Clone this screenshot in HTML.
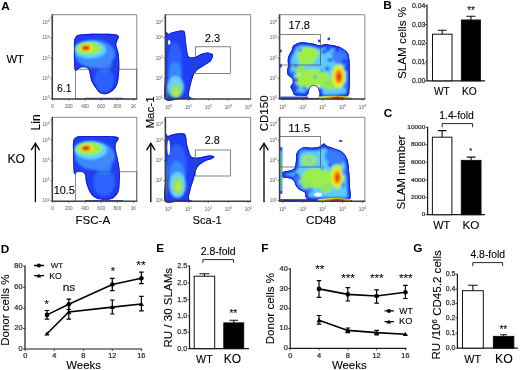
<!DOCTYPE html><html><head><meta charset="utf-8"><style>html,body{margin:0;padding:0;background:#fff;}svg{display:block;}text{font-family:"Liberation Sans",sans-serif;}</style></head><body>
<svg width="520" height="370" viewBox="0 0 520 370" style="will-change:transform">
<rect width="520" height="370" fill="#fff"/>
<clipPath id="c11"><path d="M74.20,40.20 C74.70,38.12 75.53,36.50 77.00,35.50 C78.47,34.50 79.40,34.48 83.00,34.20 C86.60,33.92 93.77,33.83 98.60,33.80 C103.43,33.77 108.65,33.62 112.00,34.00 C115.35,34.38 117.97,34.57 118.70,36.10 C119.43,37.63 116.75,41.47 116.40,43.20 C116.05,44.93 116.22,44.63 116.60,46.50 C116.98,48.37 118.25,50.72 118.70,54.40 C119.15,58.08 119.47,63.87 119.30,68.60 C119.13,73.33 118.65,79.25 117.70,82.80 C116.75,86.35 115.47,88.05 113.60,89.90 C111.73,91.75 108.70,93.35 106.50,93.90 C104.30,94.45 102.08,94.03 100.40,93.20 C98.72,92.37 97.92,90.98 96.40,88.90 C94.88,86.82 92.48,83.58 91.30,80.70 C90.12,77.82 89.98,73.72 89.30,71.60 C88.62,69.48 88.17,68.72 87.20,68.00 C86.23,67.28 84.68,67.33 83.50,67.30 C82.32,67.27 81.50,67.25 80.10,67.80 C78.70,68.35 76.12,71.90 75.10,70.60 C74.08,69.30 74.18,63.77 74.00,60.00 C73.82,56.23 73.97,51.30 74.00,48.00 C74.03,44.70 73.70,42.28 74.20,40.20 Z"/></clipPath>
<filter id="bl11" x="-50%" y="-50%" width="200%" height="200%"><feGaussianBlur stdDeviation="1.1"/></filter>
<path d="M74.20,40.20 C74.70,38.12 75.53,36.50 77.00,35.50 C78.47,34.50 79.40,34.48 83.00,34.20 C86.60,33.92 93.77,33.83 98.60,33.80 C103.43,33.77 108.65,33.62 112.00,34.00 C115.35,34.38 117.97,34.57 118.70,36.10 C119.43,37.63 116.75,41.47 116.40,43.20 C116.05,44.93 116.22,44.63 116.60,46.50 C116.98,48.37 118.25,50.72 118.70,54.40 C119.15,58.08 119.47,63.87 119.30,68.60 C119.13,73.33 118.65,79.25 117.70,82.80 C116.75,86.35 115.47,88.05 113.60,89.90 C111.73,91.75 108.70,93.35 106.50,93.90 C104.30,94.45 102.08,94.03 100.40,93.20 C98.72,92.37 97.92,90.98 96.40,88.90 C94.88,86.82 92.48,83.58 91.30,80.70 C90.12,77.82 89.98,73.72 89.30,71.60 C88.62,69.48 88.17,68.72 87.20,68.00 C86.23,67.28 84.68,67.33 83.50,67.30 C82.32,67.27 81.50,67.25 80.10,67.80 C78.70,68.35 76.12,71.90 75.10,70.60 C74.08,69.30 74.18,63.77 74.00,60.00 C73.82,56.23 73.97,51.30 74.00,48.00 C74.03,44.70 73.70,42.28 74.20,40.20 Z" fill="#1e3ef4"/>
<g clip-path="url(#c11)">
<g filter="url(#bl11)">
<ellipse cx="104" cy="80" rx="10" ry="12" fill="#2f6cff" opacity="0.8"/>
<ellipse cx="95" cy="54" rx="20" ry="14" fill="#3c88ff" opacity="1"/>
<ellipse cx="104" cy="64" rx="8" ry="7" fill="#3c88ff" opacity="0.8"/>
<ellipse cx="90" cy="49.5" rx="16" ry="9" fill="#5cd6ff" opacity="1"/>
<ellipse cx="88.7" cy="48.4" rx="12.8" ry="6.3" fill="#9cee48" opacity="1"/>
<ellipse cx="86.8" cy="48.0" rx="6.6" ry="3.6" fill="#f2ec1c" opacity="1"/>
<ellipse cx="86.1" cy="47.9" rx="4.5" ry="2.6" fill="#f88a12" opacity="1"/>
<ellipse cx="85.8" cy="47.9" rx="3.3" ry="2.0" fill="#d41a0a" opacity="1"/>
</g>
<path d="M74.20,40.20 C74.70,38.12 75.53,36.50 77.00,35.50 C78.47,34.50 79.40,34.48 83.00,34.20 C86.60,33.92 93.77,33.83 98.60,33.80 C103.43,33.77 108.65,33.62 112.00,34.00 C115.35,34.38 117.97,34.57 118.70,36.10 C119.43,37.63 116.75,41.47 116.40,43.20 C116.05,44.93 116.22,44.63 116.60,46.50 C116.98,48.37 118.25,50.72 118.70,54.40 C119.15,58.08 119.47,63.87 119.30,68.60 C119.13,73.33 118.65,79.25 117.70,82.80 C116.75,86.35 115.47,88.05 113.60,89.90 C111.73,91.75 108.70,93.35 106.50,93.90 C104.30,94.45 102.08,94.03 100.40,93.20 C98.72,92.37 97.92,90.98 96.40,88.90 C94.88,86.82 92.48,83.58 91.30,80.70 C90.12,77.82 89.98,73.72 89.30,71.60 C88.62,69.48 88.17,68.72 87.20,68.00 C86.23,67.28 84.68,67.33 83.50,67.30 C82.32,67.27 81.50,67.25 80.10,67.80 C78.70,68.35 76.12,71.90 75.10,70.60 C74.08,69.30 74.18,63.77 74.00,60.00 C73.82,56.23 73.97,51.30 74.00,48.00 C74.03,44.70 73.70,42.28 74.20,40.20 Z" fill="none" stroke="#0c14c4" stroke-width="1.8" opacity="0.85"/>

</g>
<path d="M85,98.4 H123" stroke="#0c14c4" stroke-width="1.2" opacity="0.8"/>
<clipPath id="c21"><path d="M73.20,141.20 C73.70,139.07 74.37,138.05 76.00,137.20 C77.63,136.35 79.00,136.32 83.00,136.10 C87.00,135.88 95.00,135.87 100.00,135.90 C105.00,135.93 109.88,135.93 113.00,136.30 C116.12,136.67 118.20,136.90 118.70,138.10 C119.20,139.30 116.52,141.68 116.00,143.50 C115.48,145.32 115.33,146.58 115.60,149.00 C115.87,151.42 116.92,154.40 117.60,158.00 C118.28,161.60 119.37,166.60 119.70,170.60 C120.03,174.60 119.77,178.62 119.60,182.00 C119.43,185.38 119.47,188.48 118.70,190.90 C117.93,193.32 116.35,195.12 115.00,196.50 C113.65,197.88 112.60,198.65 110.60,199.20 C108.60,199.75 105.37,199.95 103.00,199.80 C100.63,199.65 98.52,199.45 96.40,198.30 C94.28,197.15 92.00,195.50 90.30,192.90 C88.60,190.30 87.05,185.60 86.20,182.70 C85.35,179.80 85.70,177.18 85.20,175.50 C84.70,173.82 84.05,173.25 83.20,172.60 C82.35,171.95 81.22,171.62 80.10,171.60 C78.98,171.58 77.50,172.17 76.50,172.50 C75.50,172.83 74.65,175.35 74.10,173.60 C73.55,171.85 73.38,165.93 73.20,162.00 C73.02,158.07 73.00,153.47 73.00,150.00 C73.00,146.53 72.70,143.33 73.20,141.20 Z"/></clipPath>
<filter id="bl21" x="-50%" y="-50%" width="200%" height="200%"><feGaussianBlur stdDeviation="1.1"/></filter>
<path d="M73.20,141.20 C73.70,139.07 74.37,138.05 76.00,137.20 C77.63,136.35 79.00,136.32 83.00,136.10 C87.00,135.88 95.00,135.87 100.00,135.90 C105.00,135.93 109.88,135.93 113.00,136.30 C116.12,136.67 118.20,136.90 118.70,138.10 C119.20,139.30 116.52,141.68 116.00,143.50 C115.48,145.32 115.33,146.58 115.60,149.00 C115.87,151.42 116.92,154.40 117.60,158.00 C118.28,161.60 119.37,166.60 119.70,170.60 C120.03,174.60 119.77,178.62 119.60,182.00 C119.43,185.38 119.47,188.48 118.70,190.90 C117.93,193.32 116.35,195.12 115.00,196.50 C113.65,197.88 112.60,198.65 110.60,199.20 C108.60,199.75 105.37,199.95 103.00,199.80 C100.63,199.65 98.52,199.45 96.40,198.30 C94.28,197.15 92.00,195.50 90.30,192.90 C88.60,190.30 87.05,185.60 86.20,182.70 C85.35,179.80 85.70,177.18 85.20,175.50 C84.70,173.82 84.05,173.25 83.20,172.60 C82.35,171.95 81.22,171.62 80.10,171.60 C78.98,171.58 77.50,172.17 76.50,172.50 C75.50,172.83 74.65,175.35 74.10,173.60 C73.55,171.85 73.38,165.93 73.20,162.00 C73.02,158.07 73.00,153.47 73.00,150.00 C73.00,146.53 72.70,143.33 73.20,141.20 Z" fill="#1e3ef4"/>
<g clip-path="url(#c21)">
<g filter="url(#bl21)">
<ellipse cx="104" cy="182" rx="11" ry="14" fill="#2f6cff" opacity="0.8"/>
<ellipse cx="95" cy="156" rx="20" ry="14" fill="#3c88ff" opacity="1"/>
<ellipse cx="104" cy="166" rx="8" ry="8" fill="#3c88ff" opacity="0.8"/>
<ellipse cx="90.5" cy="150" rx="16.5" ry="9.2" fill="#5cd6ff" opacity="1"/>
<ellipse cx="89.2" cy="148.6" rx="13.2" ry="6.4" fill="#9cee48" opacity="1"/>
<ellipse cx="87" cy="148.2" rx="6.8" ry="3.6" fill="#f2ec1c" opacity="1"/>
<ellipse cx="86.2" cy="148.2" rx="4.6" ry="2.6" fill="#f88a12" opacity="1"/>
<ellipse cx="85.8" cy="148.2" rx="3.3" ry="2.0" fill="#d41a0a" opacity="1"/>
</g>
<path d="M73.20,141.20 C73.70,139.07 74.37,138.05 76.00,137.20 C77.63,136.35 79.00,136.32 83.00,136.10 C87.00,135.88 95.00,135.87 100.00,135.90 C105.00,135.93 109.88,135.93 113.00,136.30 C116.12,136.67 118.20,136.90 118.70,138.10 C119.20,139.30 116.52,141.68 116.00,143.50 C115.48,145.32 115.33,146.58 115.60,149.00 C115.87,151.42 116.92,154.40 117.60,158.00 C118.28,161.60 119.37,166.60 119.70,170.60 C120.03,174.60 119.77,178.62 119.60,182.00 C119.43,185.38 119.47,188.48 118.70,190.90 C117.93,193.32 116.35,195.12 115.00,196.50 C113.65,197.88 112.60,198.65 110.60,199.20 C108.60,199.75 105.37,199.95 103.00,199.80 C100.63,199.65 98.52,199.45 96.40,198.30 C94.28,197.15 92.00,195.50 90.30,192.90 C88.60,190.30 87.05,185.60 86.20,182.70 C85.35,179.80 85.70,177.18 85.20,175.50 C84.70,173.82 84.05,173.25 83.20,172.60 C82.35,171.95 81.22,171.62 80.10,171.60 C78.98,171.58 77.50,172.17 76.50,172.50 C75.50,172.83 74.65,175.35 74.10,173.60 C73.55,171.85 73.38,165.93 73.20,162.00 C73.02,158.07 73.00,153.47 73.00,150.00 C73.00,146.53 72.70,143.33 73.20,141.20 Z" fill="none" stroke="#0c14c4" stroke-width="1.8" opacity="0.85"/>

</g>
<path d="M85,200.7 H123" stroke="#0c14c4" stroke-width="1.2" opacity="0.8"/>
<clipPath id="c12"><path d="M165.20,32.40 C165.75,29.73 167.45,33.97 168.50,34.00 C169.55,34.03 170.15,33.07 171.50,32.60 C172.85,32.13 174.77,31.53 176.60,31.20 C178.43,30.87 181.13,30.43 182.50,30.60 C183.87,30.77 184.28,30.83 184.80,32.20 C185.32,33.57 185.27,36.08 185.60,38.80 C185.93,41.52 186.27,45.53 186.80,48.50 C187.33,51.47 187.47,55.18 188.80,56.60 C190.13,58.02 192.78,57.43 194.80,57.00 C196.82,56.57 198.78,54.77 200.90,54.00 C203.02,53.23 205.50,52.30 207.50,52.40 C209.50,52.50 212.28,53.27 212.90,54.60 C213.52,55.93 212.52,58.67 211.20,60.40 C209.88,62.13 207.32,63.40 205.00,65.00 C202.68,66.60 199.20,68.30 197.30,70.00 C195.40,71.70 194.70,72.70 193.60,75.20 C192.50,77.70 191.50,81.75 190.70,85.00 C189.90,88.25 188.82,92.60 188.80,94.70 C188.78,96.80 189.80,96.88 190.60,97.60 C191.40,98.32 195.37,98.77 193.60,99.00 C191.83,99.23 184.73,99.00 180.00,99.00 C175.27,99.00 167.67,103.00 165.20,99.00 C162.73,95.00 165.20,83.17 165.20,75.00 C165.20,66.83 165.20,57.10 165.20,50.00 C165.20,42.90 164.65,35.07 165.20,32.40 Z"/></clipPath>
<filter id="bl12" x="-50%" y="-50%" width="200%" height="200%"><feGaussianBlur stdDeviation="1.3"/></filter>
<path d="M165.20,32.40 C165.75,29.73 167.45,33.97 168.50,34.00 C169.55,34.03 170.15,33.07 171.50,32.60 C172.85,32.13 174.77,31.53 176.60,31.20 C178.43,30.87 181.13,30.43 182.50,30.60 C183.87,30.77 184.28,30.83 184.80,32.20 C185.32,33.57 185.27,36.08 185.60,38.80 C185.93,41.52 186.27,45.53 186.80,48.50 C187.33,51.47 187.47,55.18 188.80,56.60 C190.13,58.02 192.78,57.43 194.80,57.00 C196.82,56.57 198.78,54.77 200.90,54.00 C203.02,53.23 205.50,52.30 207.50,52.40 C209.50,52.50 212.28,53.27 212.90,54.60 C213.52,55.93 212.52,58.67 211.20,60.40 C209.88,62.13 207.32,63.40 205.00,65.00 C202.68,66.60 199.20,68.30 197.30,70.00 C195.40,71.70 194.70,72.70 193.60,75.20 C192.50,77.70 191.50,81.75 190.70,85.00 C189.90,88.25 188.82,92.60 188.80,94.70 C188.78,96.80 189.80,96.88 190.60,97.60 C191.40,98.32 195.37,98.77 193.60,99.00 C191.83,99.23 184.73,99.00 180.00,99.00 C175.27,99.00 167.67,103.00 165.20,99.00 C162.73,95.00 165.20,83.17 165.20,75.00 C165.20,66.83 165.20,57.10 165.20,50.00 C165.20,42.90 164.65,35.07 165.20,32.40 Z" fill="#1e3ef4"/>
<g clip-path="url(#c12)">
<g filter="url(#bl12)">
<ellipse cx="175" cy="62" rx="7" ry="20" fill="#3068ff" opacity="0.8"/>
<ellipse cx="175" cy="74" rx="7" ry="12" fill="#3c90ff" opacity="0.85"/>
<ellipse cx="175.5" cy="87" rx="8.5" ry="11" fill="#6cd4ff" opacity="0.95"/>
<ellipse cx="176" cy="91" rx="5.8" ry="7" fill="#8ee070" opacity="1"/>
<ellipse cx="176" cy="92" rx="3" ry="4" fill="#a8ec50" opacity="1"/>
<ellipse cx="165.6" cy="94" rx="0.8" ry="5" fill="#60d040" opacity="1"/>
</g>
<path d="M165.20,32.40 C165.75,29.73 167.45,33.97 168.50,34.00 C169.55,34.03 170.15,33.07 171.50,32.60 C172.85,32.13 174.77,31.53 176.60,31.20 C178.43,30.87 181.13,30.43 182.50,30.60 C183.87,30.77 184.28,30.83 184.80,32.20 C185.32,33.57 185.27,36.08 185.60,38.80 C185.93,41.52 186.27,45.53 186.80,48.50 C187.33,51.47 187.47,55.18 188.80,56.60 C190.13,58.02 192.78,57.43 194.80,57.00 C196.82,56.57 198.78,54.77 200.90,54.00 C203.02,53.23 205.50,52.30 207.50,52.40 C209.50,52.50 212.28,53.27 212.90,54.60 C213.52,55.93 212.52,58.67 211.20,60.40 C209.88,62.13 207.32,63.40 205.00,65.00 C202.68,66.60 199.20,68.30 197.30,70.00 C195.40,71.70 194.70,72.70 193.60,75.20 C192.50,77.70 191.50,81.75 190.70,85.00 C189.90,88.25 188.82,92.60 188.80,94.70 C188.78,96.80 189.80,96.88 190.60,97.60 C191.40,98.32 195.37,98.77 193.60,99.00 C191.83,99.23 184.73,99.00 180.00,99.00 C175.27,99.00 167.67,103.00 165.20,99.00 C162.73,95.00 165.20,83.17 165.20,75.00 C165.20,66.83 165.20,57.10 165.20,50.00 C165.20,42.90 164.65,35.07 165.20,32.40 Z" fill="none" stroke="#0c14c4" stroke-width="1.8" opacity="0.85"/>
<ellipse cx="169.2" cy="42.4" rx="1.3" ry="2.4" fill="#fff" opacity="0.95"/>
</g>
<clipPath id="c22"><path d="M165.20,134.20 C165.67,131.03 166.87,135.93 168.00,136.00 C169.13,136.07 170.17,135.05 172.00,134.60 C173.83,134.15 176.90,133.43 179.00,133.30 C181.10,133.17 183.40,133.10 184.60,133.80 C185.80,134.50 185.83,135.93 186.20,137.50 C186.57,139.07 186.37,141.03 186.80,143.20 C187.23,145.37 188.07,148.30 188.80,150.50 C189.53,152.70 189.58,155.22 191.20,156.40 C192.82,157.58 195.67,157.73 198.50,157.60 C201.33,157.47 205.57,155.80 208.20,155.60 C210.83,155.40 213.68,155.85 214.30,156.40 C214.92,156.95 213.52,158.07 211.90,158.90 C210.28,159.73 207.03,159.97 204.60,161.40 C202.17,162.83 199.13,164.45 197.30,167.50 C195.47,170.55 194.62,176.45 193.60,179.70 C192.58,182.95 192.00,183.97 191.20,187.00 C190.40,190.03 188.90,195.70 188.80,197.90 C188.70,200.10 190.00,199.65 190.60,200.20 C191.20,200.75 194.17,201.03 192.40,201.20 C190.63,201.37 184.53,201.20 180.00,201.20 C175.47,201.20 167.67,204.73 165.20,201.20 C162.73,197.67 165.20,187.70 165.20,180.00 C165.20,172.30 165.20,162.63 165.20,155.00 C165.20,147.37 164.73,137.37 165.20,134.20 Z"/></clipPath>
<filter id="bl22" x="-50%" y="-50%" width="200%" height="200%"><feGaussianBlur stdDeviation="1.3"/></filter>
<path d="M165.20,134.20 C165.67,131.03 166.87,135.93 168.00,136.00 C169.13,136.07 170.17,135.05 172.00,134.60 C173.83,134.15 176.90,133.43 179.00,133.30 C181.10,133.17 183.40,133.10 184.60,133.80 C185.80,134.50 185.83,135.93 186.20,137.50 C186.57,139.07 186.37,141.03 186.80,143.20 C187.23,145.37 188.07,148.30 188.80,150.50 C189.53,152.70 189.58,155.22 191.20,156.40 C192.82,157.58 195.67,157.73 198.50,157.60 C201.33,157.47 205.57,155.80 208.20,155.60 C210.83,155.40 213.68,155.85 214.30,156.40 C214.92,156.95 213.52,158.07 211.90,158.90 C210.28,159.73 207.03,159.97 204.60,161.40 C202.17,162.83 199.13,164.45 197.30,167.50 C195.47,170.55 194.62,176.45 193.60,179.70 C192.58,182.95 192.00,183.97 191.20,187.00 C190.40,190.03 188.90,195.70 188.80,197.90 C188.70,200.10 190.00,199.65 190.60,200.20 C191.20,200.75 194.17,201.03 192.40,201.20 C190.63,201.37 184.53,201.20 180.00,201.20 C175.47,201.20 167.67,204.73 165.20,201.20 C162.73,197.67 165.20,187.70 165.20,180.00 C165.20,172.30 165.20,162.63 165.20,155.00 C165.20,147.37 164.73,137.37 165.20,134.20 Z" fill="#1e3ef4"/>
<g clip-path="url(#c22)">
<g filter="url(#bl22)">
<ellipse cx="177" cy="166" rx="10" ry="22" fill="#3068ff" opacity="0.8"/>
<ellipse cx="177" cy="176" rx="8" ry="15" fill="#3c90ff" opacity="0.85"/>
<ellipse cx="177.5" cy="185" rx="8.5" ry="13" fill="#6cd4ff" opacity="0.95"/>
<ellipse cx="178" cy="186" rx="5.5" ry="9" fill="#8ee070" opacity="1"/>
<ellipse cx="178" cy="187" rx="2.8" ry="5" fill="#b0ec48" opacity="1"/>
<ellipse cx="165.6" cy="180" rx="0.8" ry="18" fill="#60d040" opacity="1"/>
</g>
<path d="M165.20,134.20 C165.67,131.03 166.87,135.93 168.00,136.00 C169.13,136.07 170.17,135.05 172.00,134.60 C173.83,134.15 176.90,133.43 179.00,133.30 C181.10,133.17 183.40,133.10 184.60,133.80 C185.80,134.50 185.83,135.93 186.20,137.50 C186.57,139.07 186.37,141.03 186.80,143.20 C187.23,145.37 188.07,148.30 188.80,150.50 C189.53,152.70 189.58,155.22 191.20,156.40 C192.82,157.58 195.67,157.73 198.50,157.60 C201.33,157.47 205.57,155.80 208.20,155.60 C210.83,155.40 213.68,155.85 214.30,156.40 C214.92,156.95 213.52,158.07 211.90,158.90 C210.28,159.73 207.03,159.97 204.60,161.40 C202.17,162.83 199.13,164.45 197.30,167.50 C195.47,170.55 194.62,176.45 193.60,179.70 C192.58,182.95 192.00,183.97 191.20,187.00 C190.40,190.03 188.90,195.70 188.80,197.90 C188.70,200.10 190.00,199.65 190.60,200.20 C191.20,200.75 194.17,201.03 192.40,201.20 C190.63,201.37 184.53,201.20 180.00,201.20 C175.47,201.20 167.67,204.73 165.20,201.20 C162.73,197.67 165.20,187.70 165.20,180.00 C165.20,172.30 165.20,162.63 165.20,155.00 C165.20,147.37 164.73,137.37 165.20,134.20 Z" fill="none" stroke="#0c14c4" stroke-width="1.8" opacity="0.85"/>
<ellipse cx="168.7" cy="147.5" rx="1.4" ry="7.5" fill="#fff" opacity="0.95"/>
</g>
<clipPath id="c13"><path d="M291.80,49.90 C292.72,47.87 292.08,46.85 293.50,45.60 C294.92,44.35 297.13,42.73 300.30,42.40 C303.47,42.07 309.25,43.07 312.50,43.60 C315.75,44.13 317.78,45.48 319.80,45.60 C321.82,45.72 322.17,44.30 324.60,44.30 C327.03,44.30 331.55,44.98 334.40,45.60 C337.25,46.22 339.47,46.77 341.70,48.00 C343.93,49.23 346.52,50.90 347.80,53.00 C349.08,55.10 349.03,56.90 349.40,60.60 C349.77,64.30 350.00,70.33 350.00,75.20 C350.00,80.07 349.82,86.35 349.40,89.80 C348.98,93.25 349.90,94.57 347.50,95.90 C345.10,97.23 339.42,97.52 335.00,97.80 C330.58,98.08 323.58,98.40 321.00,97.60 C318.42,96.80 320.08,94.68 319.50,93.00 C318.92,91.32 318.50,88.70 317.50,87.50 C316.50,86.30 314.75,85.72 313.50,85.80 C312.25,85.88 310.83,86.80 310.00,88.00 C309.17,89.20 309.08,91.75 308.50,93.00 C307.92,94.25 307.92,95.07 306.50,95.50 C305.08,95.93 302.00,95.68 300.00,95.60 C298.00,95.52 295.75,95.77 294.50,95.00 C293.25,94.23 293.17,92.42 292.50,91.00 C291.83,89.58 290.48,87.75 290.50,86.50 C290.52,85.25 292.28,84.75 292.60,83.50 C292.92,82.25 293.08,80.33 292.40,79.00 C291.72,77.67 289.40,76.67 288.50,75.50 C287.60,74.33 287.08,73.58 287.00,72.00 C286.92,70.42 287.83,68.37 288.00,66.00 C288.17,63.63 287.37,60.48 288.00,57.80 C288.63,55.12 290.88,51.93 291.80,49.90 Z"/></clipPath>
<filter id="bl13" x="-50%" y="-50%" width="200%" height="200%"><feGaussianBlur stdDeviation="1.2"/></filter>
<path d="M291.80,49.90 C292.72,47.87 292.08,46.85 293.50,45.60 C294.92,44.35 297.13,42.73 300.30,42.40 C303.47,42.07 309.25,43.07 312.50,43.60 C315.75,44.13 317.78,45.48 319.80,45.60 C321.82,45.72 322.17,44.30 324.60,44.30 C327.03,44.30 331.55,44.98 334.40,45.60 C337.25,46.22 339.47,46.77 341.70,48.00 C343.93,49.23 346.52,50.90 347.80,53.00 C349.08,55.10 349.03,56.90 349.40,60.60 C349.77,64.30 350.00,70.33 350.00,75.20 C350.00,80.07 349.82,86.35 349.40,89.80 C348.98,93.25 349.90,94.57 347.50,95.90 C345.10,97.23 339.42,97.52 335.00,97.80 C330.58,98.08 323.58,98.40 321.00,97.60 C318.42,96.80 320.08,94.68 319.50,93.00 C318.92,91.32 318.50,88.70 317.50,87.50 C316.50,86.30 314.75,85.72 313.50,85.80 C312.25,85.88 310.83,86.80 310.00,88.00 C309.17,89.20 309.08,91.75 308.50,93.00 C307.92,94.25 307.92,95.07 306.50,95.50 C305.08,95.93 302.00,95.68 300.00,95.60 C298.00,95.52 295.75,95.77 294.50,95.00 C293.25,94.23 293.17,92.42 292.50,91.00 C291.83,89.58 290.48,87.75 290.50,86.50 C290.52,85.25 292.28,84.75 292.60,83.50 C292.92,82.25 293.08,80.33 292.40,79.00 C291.72,77.67 289.40,76.67 288.50,75.50 C287.60,74.33 287.08,73.58 287.00,72.00 C286.92,70.42 287.83,68.37 288.00,66.00 C288.17,63.63 287.37,60.48 288.00,57.80 C288.63,55.12 290.88,51.93 291.80,49.90 Z" fill="#1e3ef4"/>
<g clip-path="url(#c13)">
<g filter="url(#bl13)">
<path d="M291.80,49.90 C292.72,47.87 292.08,46.85 293.50,45.60 C294.92,44.35 297.13,42.73 300.30,42.40 C303.47,42.07 309.25,43.07 312.50,43.60 C315.75,44.13 317.78,45.48 319.80,45.60 C321.82,45.72 322.17,44.30 324.60,44.30 C327.03,44.30 331.55,44.98 334.40,45.60 C337.25,46.22 339.47,46.77 341.70,48.00 C343.93,49.23 346.52,50.90 347.80,53.00 C349.08,55.10 349.03,56.90 349.40,60.60 C349.77,64.30 350.00,70.33 350.00,75.20 C350.00,80.07 349.82,86.35 349.40,89.80 C348.98,93.25 349.90,94.57 347.50,95.90 C345.10,97.23 339.42,97.52 335.00,97.80 C330.58,98.08 323.58,98.40 321.00,97.60 C318.42,96.80 320.08,94.68 319.50,93.00 C318.92,91.32 318.50,88.70 317.50,87.50 C316.50,86.30 314.75,85.72 313.50,85.80 C312.25,85.88 310.83,86.80 310.00,88.00 C309.17,89.20 309.08,91.75 308.50,93.00 C307.92,94.25 307.92,95.07 306.50,95.50 C305.08,95.93 302.00,95.68 300.00,95.60 C298.00,95.52 295.75,95.77 294.50,95.00 C293.25,94.23 293.17,92.42 292.50,91.00 C291.83,89.58 290.48,87.75 290.50,86.50 C290.52,85.25 292.28,84.75 292.60,83.50 C292.92,82.25 293.08,80.33 292.40,79.00 C291.72,77.67 289.40,76.67 288.50,75.50 C287.60,74.33 287.08,73.58 287.00,72.00 C286.92,70.42 287.83,68.37 288.00,66.00 C288.17,63.63 287.37,60.48 288.00,57.80 C288.63,55.12 290.88,51.93 291.80,49.90 Z" fill="#5ccaff" stroke="#1e3ef4" stroke-width="6.5"/>
<ellipse cx="340" cy="56" rx="8" ry="8" fill="#3470ff" opacity="0.85"/>
<ellipse cx="294" cy="82" rx="6" ry="11" fill="#2a5cff" opacity="0.85"/>
<ellipse cx="296" cy="75" rx="2" ry="2" fill="#60d0ff" opacity="1"/>
<ellipse cx="308" cy="55" rx="11" ry="8" fill="#9cee48" opacity="1"/>
<ellipse cx="306" cy="61" rx="8" ry="4" fill="#9cee48" opacity="1"/>
<ellipse cx="312" cy="79" rx="18" ry="10" fill="#9cee48" opacity="1"/>
<ellipse cx="300" cy="70" rx="5" ry="5" fill="#8ce858" opacity="1"/>
<ellipse cx="330" cy="84" rx="8" ry="6" fill="#8ce858" opacity="1"/>
<ellipse cx="338.6" cy="76.5" rx="7" ry="12" fill="#c8f030" opacity="1"/>
<ellipse cx="338.6" cy="76.5" rx="5.4" ry="9.5" fill="#f2ec1c" opacity="1"/>
<ellipse cx="338.8" cy="76.5" rx="3.8" ry="7" fill="#f88a12" opacity="1"/>
<ellipse cx="339" cy="77" rx="2" ry="4.2" fill="#d84010" opacity="1"/>
<ellipse cx="324" cy="51.7" rx="2.4" ry="2" fill="#1e3ef4" opacity="1"/>
<ellipse cx="327.4" cy="68.4" rx="2" ry="2" fill="#1e3ef4" opacity="1"/>
<ellipse cx="315" cy="77" rx="1.4" ry="1.4" fill="#3c88ff" opacity="1"/>
<ellipse cx="333" cy="53" rx="2" ry="2" fill="#3c88ff" opacity="1"/>
<ellipse cx="344" cy="62" rx="2" ry="3" fill="#1e3ef4" opacity="1"/>
<ellipse cx="345" cy="86" rx="2" ry="3" fill="#3c88ff" opacity="1"/>
<ellipse cx="300" cy="50" rx="2" ry="2" fill="#3c88ff" opacity="1"/>
<ellipse cx="296" cy="80" rx="2" ry="2" fill="#1e3ef4" opacity="1"/>
<ellipse cx="296" cy="66" rx="2.2" ry="2.2" fill="#3c88ff" opacity="1"/>
<ellipse cx="293" cy="88" rx="3" ry="3" fill="#1e3ef4" opacity="1"/>
<ellipse cx="330" cy="60" rx="2.5" ry="1.8" fill="#1e3ef4" opacity="1"/>
<ellipse cx="322" cy="71" rx="1.6" ry="1.6" fill="#3c88ff" opacity="1"/>
<ellipse cx="310" cy="67" rx="2" ry="1.5" fill="#60c8ff" opacity="1"/>
<ellipse cx="304" cy="88" rx="2" ry="2" fill="#3c88ff" opacity="1"/>
<ellipse cx="328" cy="49.5" rx="2.6" ry="2" fill="#1e3ef4" opacity="1"/>
<ellipse cx="337" cy="50" rx="2.2" ry="2.2" fill="#1e3ef4" opacity="1"/>
<ellipse cx="346" cy="68" rx="2" ry="3" fill="#1e3ef4" opacity="1"/>
<ellipse cx="318" cy="58" rx="1.8" ry="1.8" fill="#60c8ff" opacity="1"/>
<ellipse cx="299.3" cy="74.5" rx="1.3" ry="1.3" fill="#e0f0ff" opacity="1"/>
<ellipse cx="317.8" cy="86" rx="1.5" ry="1.5" fill="#ffffff" opacity="1"/>
<ellipse cx="314" cy="92" rx="4" ry="4" fill="#ffffff" opacity="1"/>
</g>
<path d="M291.80,49.90 C292.72,47.87 292.08,46.85 293.50,45.60 C294.92,44.35 297.13,42.73 300.30,42.40 C303.47,42.07 309.25,43.07 312.50,43.60 C315.75,44.13 317.78,45.48 319.80,45.60 C321.82,45.72 322.17,44.30 324.60,44.30 C327.03,44.30 331.55,44.98 334.40,45.60 C337.25,46.22 339.47,46.77 341.70,48.00 C343.93,49.23 346.52,50.90 347.80,53.00 C349.08,55.10 349.03,56.90 349.40,60.60 C349.77,64.30 350.00,70.33 350.00,75.20 C350.00,80.07 349.82,86.35 349.40,89.80 C348.98,93.25 349.90,94.57 347.50,95.90 C345.10,97.23 339.42,97.52 335.00,97.80 C330.58,98.08 323.58,98.40 321.00,97.60 C318.42,96.80 320.08,94.68 319.50,93.00 C318.92,91.32 318.50,88.70 317.50,87.50 C316.50,86.30 314.75,85.72 313.50,85.80 C312.25,85.88 310.83,86.80 310.00,88.00 C309.17,89.20 309.08,91.75 308.50,93.00 C307.92,94.25 307.92,95.07 306.50,95.50 C305.08,95.93 302.00,95.68 300.00,95.60 C298.00,95.52 295.75,95.77 294.50,95.00 C293.25,94.23 293.17,92.42 292.50,91.00 C291.83,89.58 290.48,87.75 290.50,86.50 C290.52,85.25 292.28,84.75 292.60,83.50 C292.92,82.25 293.08,80.33 292.40,79.00 C291.72,77.67 289.40,76.67 288.50,75.50 C287.60,74.33 287.08,73.58 287.00,72.00 C286.92,70.42 287.83,68.37 288.00,66.00 C288.17,63.63 287.37,60.48 288.00,57.80 C288.63,55.12 290.88,51.93 291.80,49.90 Z" fill="none" stroke="#0c14c4" stroke-width="1.6" opacity="0.7"/>

</g>
<clipPath id="c23"><path d="M296.00,160.20 C296.35,157.68 295.57,155.00 296.70,152.90 C297.83,150.80 300.17,148.45 302.80,147.60 C305.43,146.75 309.67,147.97 312.50,147.80 C315.33,147.63 317.95,147.33 319.80,146.60 C321.65,145.87 322.38,143.50 323.60,143.40 C324.82,143.30 325.30,145.13 327.10,146.00 C328.90,146.87 331.77,147.53 334.40,148.60 C337.03,149.67 340.70,150.47 342.90,152.40 C345.10,154.33 346.55,156.87 347.60,160.20 C348.65,163.53 348.80,167.93 349.20,172.40 C349.60,176.87 349.93,182.50 350.00,187.00 C350.07,191.50 351.80,197.13 349.60,199.40 C347.40,201.67 341.73,200.40 336.80,200.60 C331.87,200.80 324.63,200.67 320.00,200.60 C315.37,200.53 311.42,200.88 309.00,200.20 C306.58,199.52 306.20,197.78 305.50,196.50 C304.80,195.22 305.72,193.58 304.80,192.50 C303.88,191.42 301.47,191.08 300.00,190.00 C298.53,188.92 297.00,187.50 296.00,186.00 C295.00,184.50 294.93,182.23 294.00,181.00 C293.07,179.77 292.02,179.13 290.40,178.60 C288.78,178.07 285.87,178.48 284.30,177.80 C282.73,177.12 281.02,175.57 281.00,174.50 C280.98,173.43 282.67,172.08 284.20,171.40 C285.73,170.72 288.47,170.97 290.20,170.40 C291.93,169.83 293.63,169.70 294.60,168.00 C295.57,166.30 295.65,162.72 296.00,160.20 Z"/></clipPath>
<filter id="bl23" x="-50%" y="-50%" width="200%" height="200%"><feGaussianBlur stdDeviation="1.2"/></filter>
<path d="M296.00,160.20 C296.35,157.68 295.57,155.00 296.70,152.90 C297.83,150.80 300.17,148.45 302.80,147.60 C305.43,146.75 309.67,147.97 312.50,147.80 C315.33,147.63 317.95,147.33 319.80,146.60 C321.65,145.87 322.38,143.50 323.60,143.40 C324.82,143.30 325.30,145.13 327.10,146.00 C328.90,146.87 331.77,147.53 334.40,148.60 C337.03,149.67 340.70,150.47 342.90,152.40 C345.10,154.33 346.55,156.87 347.60,160.20 C348.65,163.53 348.80,167.93 349.20,172.40 C349.60,176.87 349.93,182.50 350.00,187.00 C350.07,191.50 351.80,197.13 349.60,199.40 C347.40,201.67 341.73,200.40 336.80,200.60 C331.87,200.80 324.63,200.67 320.00,200.60 C315.37,200.53 311.42,200.88 309.00,200.20 C306.58,199.52 306.20,197.78 305.50,196.50 C304.80,195.22 305.72,193.58 304.80,192.50 C303.88,191.42 301.47,191.08 300.00,190.00 C298.53,188.92 297.00,187.50 296.00,186.00 C295.00,184.50 294.93,182.23 294.00,181.00 C293.07,179.77 292.02,179.13 290.40,178.60 C288.78,178.07 285.87,178.48 284.30,177.80 C282.73,177.12 281.02,175.57 281.00,174.50 C280.98,173.43 282.67,172.08 284.20,171.40 C285.73,170.72 288.47,170.97 290.20,170.40 C291.93,169.83 293.63,169.70 294.60,168.00 C295.57,166.30 295.65,162.72 296.00,160.20 Z" fill="#1e3ef4"/>
<g clip-path="url(#c23)">
<g filter="url(#bl23)">
<path d="M296.00,160.20 C296.35,157.68 295.57,155.00 296.70,152.90 C297.83,150.80 300.17,148.45 302.80,147.60 C305.43,146.75 309.67,147.97 312.50,147.80 C315.33,147.63 317.95,147.33 319.80,146.60 C321.65,145.87 322.38,143.50 323.60,143.40 C324.82,143.30 325.30,145.13 327.10,146.00 C328.90,146.87 331.77,147.53 334.40,148.60 C337.03,149.67 340.70,150.47 342.90,152.40 C345.10,154.33 346.55,156.87 347.60,160.20 C348.65,163.53 348.80,167.93 349.20,172.40 C349.60,176.87 349.93,182.50 350.00,187.00 C350.07,191.50 351.80,197.13 349.60,199.40 C347.40,201.67 341.73,200.40 336.80,200.60 C331.87,200.80 324.63,200.67 320.00,200.60 C315.37,200.53 311.42,200.88 309.00,200.20 C306.58,199.52 306.20,197.78 305.50,196.50 C304.80,195.22 305.72,193.58 304.80,192.50 C303.88,191.42 301.47,191.08 300.00,190.00 C298.53,188.92 297.00,187.50 296.00,186.00 C295.00,184.50 294.93,182.23 294.00,181.00 C293.07,179.77 292.02,179.13 290.40,178.60 C288.78,178.07 285.87,178.48 284.30,177.80 C282.73,177.12 281.02,175.57 281.00,174.50 C280.98,173.43 282.67,172.08 284.20,171.40 C285.73,170.72 288.47,170.97 290.20,170.40 C291.93,169.83 293.63,169.70 294.60,168.00 C295.57,166.30 295.65,162.72 296.00,160.20 Z" fill="#5ccaff" stroke="#1e3ef4" stroke-width="6.5"/>
<ellipse cx="336" cy="156" rx="11" ry="9" fill="#3470ff" opacity="0.85"/>
<ellipse cx="304" cy="190" rx="7" ry="6" fill="#2a5cff" opacity="0.85"/>
<ellipse cx="297" cy="178" rx="4" ry="4" fill="#3470ff" opacity="0.8"/>
<ellipse cx="300" cy="150" rx="6" ry="3" fill="#3c8cff" opacity="0.7"/>
<ellipse cx="309" cy="160" rx="8" ry="5.5" fill="#9ce858" opacity="1"/>
<ellipse cx="317" cy="178" rx="16" ry="10" fill="#9cee48" opacity="1"/>
<ellipse cx="305" cy="184" rx="7" ry="5" fill="#8ce858" opacity="1"/>
<ellipse cx="326" cy="188" rx="6" ry="5" fill="#8ce858" opacity="1"/>
<ellipse cx="337.1" cy="177" rx="7" ry="12.5" fill="#b8f038" opacity="1"/>
<ellipse cx="337.1" cy="177.4" rx="5.2" ry="9.5" fill="#f2ec1c" opacity="1"/>
<ellipse cx="337.3" cy="177.4" rx="3.4" ry="6.8" fill="#f88a12" opacity="1"/>
<ellipse cx="337.5" cy="177.8" rx="1.8" ry="3.8" fill="#d84010" opacity="1"/>
<ellipse cx="309" cy="160" rx="2" ry="2" fill="#60c8ff" opacity="1"/>
<ellipse cx="296" cy="175" rx="2" ry="2" fill="#1e3ef4" opacity="1"/>
<ellipse cx="330" cy="165" rx="2" ry="2" fill="#1e3ef4" opacity="1"/>
<ellipse cx="344" cy="172" rx="2" ry="3" fill="#3c88ff" opacity="1"/>
<ellipse cx="300" cy="186" rx="2.5" ry="2.5" fill="#3c88ff" opacity="1"/>
<ellipse cx="322" cy="168" rx="2" ry="2" fill="#3c88ff" opacity="1"/>
<ellipse cx="343" cy="185" rx="2" ry="3" fill="#3c8cff" opacity="1"/>
<ellipse cx="311" cy="190" rx="2.5" ry="2" fill="#3c88ff" opacity="1"/>
<ellipse cx="296" cy="196" rx="4" ry="3" fill="#1e3ef4" opacity="0.8"/>
</g>
<path d="M296.00,160.20 C296.35,157.68 295.57,155.00 296.70,152.90 C297.83,150.80 300.17,148.45 302.80,147.60 C305.43,146.75 309.67,147.97 312.50,147.80 C315.33,147.63 317.95,147.33 319.80,146.60 C321.65,145.87 322.38,143.50 323.60,143.40 C324.82,143.30 325.30,145.13 327.10,146.00 C328.90,146.87 331.77,147.53 334.40,148.60 C337.03,149.67 340.70,150.47 342.90,152.40 C345.10,154.33 346.55,156.87 347.60,160.20 C348.65,163.53 348.80,167.93 349.20,172.40 C349.60,176.87 349.93,182.50 350.00,187.00 C350.07,191.50 351.80,197.13 349.60,199.40 C347.40,201.67 341.73,200.40 336.80,200.60 C331.87,200.80 324.63,200.67 320.00,200.60 C315.37,200.53 311.42,200.88 309.00,200.20 C306.58,199.52 306.20,197.78 305.50,196.50 C304.80,195.22 305.72,193.58 304.80,192.50 C303.88,191.42 301.47,191.08 300.00,190.00 C298.53,188.92 297.00,187.50 296.00,186.00 C295.00,184.50 294.93,182.23 294.00,181.00 C293.07,179.77 292.02,179.13 290.40,178.60 C288.78,178.07 285.87,178.48 284.30,177.80 C282.73,177.12 281.02,175.57 281.00,174.50 C280.98,173.43 282.67,172.08 284.20,171.40 C285.73,170.72 288.47,170.97 290.20,170.40 C291.93,169.83 293.63,169.70 294.60,168.00 C295.57,166.30 295.65,162.72 296.00,160.20 Z" fill="none" stroke="#0c14c4" stroke-width="1.6" opacity="0.7"/>
<ellipse cx="318.2" cy="194.6" rx="3.8" ry="2.2" fill="#fff"/>
</g>
<path d="M281,97.89999999999999 H307" stroke="#1e3ef4" stroke-width="2.6" stroke-linecap="round" opacity="0.9"/>
<path d="M283,98.6 H352" stroke="#0c14c4" stroke-width="1.4"/>
<ellipse cx="334" cy="97.7" rx="17" ry="1.9" fill="#c8e830"/>
<ellipse cx="337" cy="97.89999999999999" rx="12" ry="1.6" fill="#f88a12"/>
<ellipse cx="337.5" cy="98.1" rx="7" ry="1.3" fill="#c82a10"/>
<path d="M281,200.2 H307" stroke="#1e3ef4" stroke-width="2.6" stroke-linecap="round" opacity="0.9"/>
<path d="M283,200.9 H352" stroke="#0c14c4" stroke-width="1.4"/>
<ellipse cx="334" cy="200.0" rx="17" ry="1.9" fill="#c8e830"/>
<ellipse cx="337" cy="200.2" rx="12" ry="1.6" fill="#f88a12"/>
<ellipse cx="337.5" cy="200.4" rx="7" ry="1.3" fill="#c82a10"/>
<ellipse cx="319.2" cy="41.0" rx="1.4" ry="1.4" fill="#1e3ef4"/>
<ellipse cx="328.8" cy="38.9" rx="1.4" ry="1.4" fill="#1e3ef4"/>
<ellipse cx="280.8" cy="50.8" rx="1.0" ry="1.6" fill="#1e3ef4"/>
<ellipse cx="280.9" cy="65.7" rx="1.0" ry="2.0" fill="#1e3ef4"/>
<ellipse cx="340.6" cy="140.9" rx="1.9" ry="1.0" fill="#1e3ef4"/>
<rect x="279.8" y="147" width="2.6" height="47" rx="1" fill="#2a5cff"/><rect x="279.8" y="151" width="2.0" height="40" fill="#58c8e8"/><rect x="279.8" y="156" width="1.5" height="30" fill="#70d860"/>
<path d="M52.3,14.7 H136.8 V99.0" fill="none" stroke="#7a7a7a" stroke-width="0.9"/>
<path d="M52.3,14.299999999999999 V99.0 H137.20000000000002" fill="none" stroke="#3c3c3c" stroke-width="1.5"/>
<line x1="50.5" y1="98.4" x2="52.3" y2="98.4" stroke="#444" stroke-width="0.7"/>
<text x="46.1" y="100.0" font-size="4.6" text-anchor="middle" fill="#555">10<tspan dy="-1.7" font-size="3.59">0</tspan></text>
<line x1="51.3" y1="92.3" x2="52.3" y2="92.3" stroke="#666" stroke-width="0.45"/>
<line x1="51.3" y1="88.8" x2="52.3" y2="88.8" stroke="#666" stroke-width="0.45"/>
<line x1="51.3" y1="86.2" x2="52.3" y2="86.2" stroke="#666" stroke-width="0.45"/>
<line x1="51.3" y1="84.3" x2="52.3" y2="84.3" stroke="#666" stroke-width="0.45"/>
<line x1="51.3" y1="82.7" x2="52.3" y2="82.7" stroke="#666" stroke-width="0.45"/>
<line x1="51.3" y1="81.3" x2="52.3" y2="81.3" stroke="#666" stroke-width="0.45"/>
<line x1="51.3" y1="80.2" x2="52.3" y2="80.2" stroke="#666" stroke-width="0.45"/>
<line x1="51.3" y1="79.1" x2="52.3" y2="79.1" stroke="#666" stroke-width="0.45"/>
<line x1="50.5" y1="78.2" x2="52.3" y2="78.2" stroke="#444" stroke-width="0.7"/>
<text x="46.1" y="79.8" font-size="4.6" text-anchor="middle" fill="#555">10<tspan dy="-1.7" font-size="3.59">1</tspan></text>
<line x1="51.3" y1="72.1" x2="52.3" y2="72.1" stroke="#666" stroke-width="0.45"/>
<line x1="51.3" y1="68.6" x2="52.3" y2="68.6" stroke="#666" stroke-width="0.45"/>
<line x1="51.3" y1="66.0" x2="52.3" y2="66.0" stroke="#666" stroke-width="0.45"/>
<line x1="51.3" y1="64.1" x2="52.3" y2="64.1" stroke="#666" stroke-width="0.45"/>
<line x1="51.3" y1="62.5" x2="52.3" y2="62.5" stroke="#666" stroke-width="0.45"/>
<line x1="51.3" y1="61.1" x2="52.3" y2="61.1" stroke="#666" stroke-width="0.45"/>
<line x1="51.3" y1="60.0" x2="52.3" y2="60.0" stroke="#666" stroke-width="0.45"/>
<line x1="51.3" y1="58.9" x2="52.3" y2="58.9" stroke="#666" stroke-width="0.45"/>
<line x1="50.5" y1="58.0" x2="52.3" y2="58.0" stroke="#444" stroke-width="0.7"/>
<text x="46.1" y="59.6" font-size="4.6" text-anchor="middle" fill="#555">10<tspan dy="-1.7" font-size="3.59">2</tspan></text>
<line x1="51.3" y1="51.9" x2="52.3" y2="51.9" stroke="#666" stroke-width="0.45"/>
<line x1="51.3" y1="48.4" x2="52.3" y2="48.4" stroke="#666" stroke-width="0.45"/>
<line x1="51.3" y1="45.8" x2="52.3" y2="45.8" stroke="#666" stroke-width="0.45"/>
<line x1="51.3" y1="43.9" x2="52.3" y2="43.9" stroke="#666" stroke-width="0.45"/>
<line x1="51.3" y1="42.3" x2="52.3" y2="42.3" stroke="#666" stroke-width="0.45"/>
<line x1="51.3" y1="40.9" x2="52.3" y2="40.9" stroke="#666" stroke-width="0.45"/>
<line x1="51.3" y1="39.8" x2="52.3" y2="39.8" stroke="#666" stroke-width="0.45"/>
<line x1="51.3" y1="38.7" x2="52.3" y2="38.7" stroke="#666" stroke-width="0.45"/>
<line x1="50.5" y1="37.8" x2="52.3" y2="37.8" stroke="#444" stroke-width="0.7"/>
<text x="46.1" y="39.4" font-size="4.6" text-anchor="middle" fill="#555">10<tspan dy="-1.7" font-size="3.59">3</tspan></text>
<line x1="51.3" y1="31.7" x2="52.3" y2="31.7" stroke="#666" stroke-width="0.45"/>
<line x1="51.3" y1="28.2" x2="52.3" y2="28.2" stroke="#666" stroke-width="0.45"/>
<line x1="51.3" y1="25.6" x2="52.3" y2="25.6" stroke="#666" stroke-width="0.45"/>
<line x1="51.3" y1="23.7" x2="52.3" y2="23.7" stroke="#666" stroke-width="0.45"/>
<line x1="51.3" y1="22.1" x2="52.3" y2="22.1" stroke="#666" stroke-width="0.45"/>
<line x1="51.3" y1="20.7" x2="52.3" y2="20.7" stroke="#666" stroke-width="0.45"/>
<line x1="51.3" y1="19.6" x2="52.3" y2="19.6" stroke="#666" stroke-width="0.45"/>
<line x1="51.3" y1="18.5" x2="52.3" y2="18.5" stroke="#666" stroke-width="0.45"/>
<line x1="50.5" y1="17.6" x2="52.3" y2="17.6" stroke="#444" stroke-width="0.7"/>
<text x="46.1" y="23.8" font-size="4.6" text-anchor="middle" fill="#555">10<tspan dy="-1.7" font-size="3.59">4</tspan></text>
<line x1="52.6" y1="99.0" x2="52.6" y2="100.8" stroke="#444" stroke-width="0.6"/>
<line x1="56.6" y1="99.0" x2="56.6" y2="100.0" stroke="#666" stroke-width="0.45"/>
<line x1="60.7" y1="99.0" x2="60.7" y2="100.0" stroke="#666" stroke-width="0.45"/>
<line x1="64.8" y1="99.0" x2="64.8" y2="100.0" stroke="#666" stroke-width="0.45"/>
<text x="52.6" y="107.8" font-size="4.6" text-anchor="middle" fill="#555">0</text>
<line x1="68.8" y1="99.0" x2="68.8" y2="100.8" stroke="#444" stroke-width="0.6"/>
<line x1="72.8" y1="99.0" x2="72.8" y2="100.0" stroke="#666" stroke-width="0.45"/>
<line x1="76.9" y1="99.0" x2="76.9" y2="100.0" stroke="#666" stroke-width="0.45"/>
<line x1="80.9" y1="99.0" x2="80.9" y2="100.0" stroke="#666" stroke-width="0.45"/>
<text x="68.8" y="107.8" font-size="4.6" text-anchor="middle" fill="#555">200</text>
<line x1="85.0" y1="99.0" x2="85.0" y2="100.8" stroke="#444" stroke-width="0.6"/>
<line x1="89.0" y1="99.0" x2="89.0" y2="100.0" stroke="#666" stroke-width="0.45"/>
<line x1="93.1" y1="99.0" x2="93.1" y2="100.0" stroke="#666" stroke-width="0.45"/>
<line x1="97.2" y1="99.0" x2="97.2" y2="100.0" stroke="#666" stroke-width="0.45"/>
<text x="85.0" y="107.8" font-size="4.6" text-anchor="middle" fill="#555">400</text>
<line x1="101.2" y1="99.0" x2="101.2" y2="100.8" stroke="#444" stroke-width="0.6"/>
<line x1="105.2" y1="99.0" x2="105.2" y2="100.0" stroke="#666" stroke-width="0.45"/>
<line x1="109.3" y1="99.0" x2="109.3" y2="100.0" stroke="#666" stroke-width="0.45"/>
<line x1="113.3" y1="99.0" x2="113.3" y2="100.0" stroke="#666" stroke-width="0.45"/>
<text x="101.2" y="107.8" font-size="4.6" text-anchor="middle" fill="#555">600</text>
<line x1="117.4" y1="99.0" x2="117.4" y2="100.8" stroke="#444" stroke-width="0.6"/>
<line x1="121.4" y1="99.0" x2="121.4" y2="100.0" stroke="#666" stroke-width="0.45"/>
<line x1="125.5" y1="99.0" x2="125.5" y2="100.0" stroke="#666" stroke-width="0.45"/>
<line x1="129.5" y1="99.0" x2="129.5" y2="100.0" stroke="#666" stroke-width="0.45"/>
<text x="117.4" y="107.8" font-size="4.6" text-anchor="middle" fill="#555">800</text>
<line x1="133.6" y1="99.0" x2="133.6" y2="100.8" stroke="#444" stroke-width="0.6"/>
<text x="133.6" y="107.8" font-size="4.6" text-anchor="middle" fill="#555">1K</text>
<path d="M165.4,14.7 H250.7 V99.0" fill="none" stroke="#7a7a7a" stroke-width="0.9"/>
<path d="M165.4,14.299999999999999 V99.0 H251.1" fill="none" stroke="#3c3c3c" stroke-width="1.5"/>
<line x1="163.6" y1="98.4" x2="165.4" y2="98.4" stroke="#444" stroke-width="0.7"/>
<text x="159.2" y="100.0" font-size="4.6" text-anchor="middle" fill="#555">10<tspan dy="-1.7" font-size="3.59">0</tspan></text>
<line x1="164.4" y1="92.3" x2="165.4" y2="92.3" stroke="#666" stroke-width="0.45"/>
<line x1="164.4" y1="88.8" x2="165.4" y2="88.8" stroke="#666" stroke-width="0.45"/>
<line x1="164.4" y1="86.2" x2="165.4" y2="86.2" stroke="#666" stroke-width="0.45"/>
<line x1="164.4" y1="84.3" x2="165.4" y2="84.3" stroke="#666" stroke-width="0.45"/>
<line x1="164.4" y1="82.7" x2="165.4" y2="82.7" stroke="#666" stroke-width="0.45"/>
<line x1="164.4" y1="81.3" x2="165.4" y2="81.3" stroke="#666" stroke-width="0.45"/>
<line x1="164.4" y1="80.2" x2="165.4" y2="80.2" stroke="#666" stroke-width="0.45"/>
<line x1="164.4" y1="79.1" x2="165.4" y2="79.1" stroke="#666" stroke-width="0.45"/>
<line x1="163.6" y1="78.2" x2="165.4" y2="78.2" stroke="#444" stroke-width="0.7"/>
<text x="159.2" y="79.8" font-size="4.6" text-anchor="middle" fill="#555">10<tspan dy="-1.7" font-size="3.59">1</tspan></text>
<line x1="164.4" y1="72.1" x2="165.4" y2="72.1" stroke="#666" stroke-width="0.45"/>
<line x1="164.4" y1="68.6" x2="165.4" y2="68.6" stroke="#666" stroke-width="0.45"/>
<line x1="164.4" y1="66.0" x2="165.4" y2="66.0" stroke="#666" stroke-width="0.45"/>
<line x1="164.4" y1="64.1" x2="165.4" y2="64.1" stroke="#666" stroke-width="0.45"/>
<line x1="164.4" y1="62.5" x2="165.4" y2="62.5" stroke="#666" stroke-width="0.45"/>
<line x1="164.4" y1="61.1" x2="165.4" y2="61.1" stroke="#666" stroke-width="0.45"/>
<line x1="164.4" y1="60.0" x2="165.4" y2="60.0" stroke="#666" stroke-width="0.45"/>
<line x1="164.4" y1="58.9" x2="165.4" y2="58.9" stroke="#666" stroke-width="0.45"/>
<line x1="163.6" y1="58.0" x2="165.4" y2="58.0" stroke="#444" stroke-width="0.7"/>
<text x="159.2" y="59.6" font-size="4.6" text-anchor="middle" fill="#555">10<tspan dy="-1.7" font-size="3.59">2</tspan></text>
<line x1="164.4" y1="51.9" x2="165.4" y2="51.9" stroke="#666" stroke-width="0.45"/>
<line x1="164.4" y1="48.4" x2="165.4" y2="48.4" stroke="#666" stroke-width="0.45"/>
<line x1="164.4" y1="45.8" x2="165.4" y2="45.8" stroke="#666" stroke-width="0.45"/>
<line x1="164.4" y1="43.9" x2="165.4" y2="43.9" stroke="#666" stroke-width="0.45"/>
<line x1="164.4" y1="42.3" x2="165.4" y2="42.3" stroke="#666" stroke-width="0.45"/>
<line x1="164.4" y1="40.9" x2="165.4" y2="40.9" stroke="#666" stroke-width="0.45"/>
<line x1="164.4" y1="39.8" x2="165.4" y2="39.8" stroke="#666" stroke-width="0.45"/>
<line x1="164.4" y1="38.7" x2="165.4" y2="38.7" stroke="#666" stroke-width="0.45"/>
<line x1="163.6" y1="37.8" x2="165.4" y2="37.8" stroke="#444" stroke-width="0.7"/>
<text x="159.2" y="39.4" font-size="4.6" text-anchor="middle" fill="#555">10<tspan dy="-1.7" font-size="3.59">3</tspan></text>
<line x1="164.4" y1="31.7" x2="165.4" y2="31.7" stroke="#666" stroke-width="0.45"/>
<line x1="164.4" y1="28.2" x2="165.4" y2="28.2" stroke="#666" stroke-width="0.45"/>
<line x1="164.4" y1="25.6" x2="165.4" y2="25.6" stroke="#666" stroke-width="0.45"/>
<line x1="164.4" y1="23.7" x2="165.4" y2="23.7" stroke="#666" stroke-width="0.45"/>
<line x1="164.4" y1="22.1" x2="165.4" y2="22.1" stroke="#666" stroke-width="0.45"/>
<line x1="164.4" y1="20.7" x2="165.4" y2="20.7" stroke="#666" stroke-width="0.45"/>
<line x1="164.4" y1="19.6" x2="165.4" y2="19.6" stroke="#666" stroke-width="0.45"/>
<line x1="164.4" y1="18.5" x2="165.4" y2="18.5" stroke="#666" stroke-width="0.45"/>
<line x1="163.6" y1="17.6" x2="165.4" y2="17.6" stroke="#444" stroke-width="0.7"/>
<text x="159.2" y="23.8" font-size="4.6" text-anchor="middle" fill="#555">10<tspan dy="-1.7" font-size="3.59">4</tspan></text>
<line x1="168.6" y1="99.0" x2="168.6" y2="100.8" stroke="#444" stroke-width="0.6"/>
<text x="168.6" y="108.6" font-size="4.6" text-anchor="middle" fill="#555">10<tspan dy="-1.7" font-size="3.59">0</tspan></text>
<line x1="174.6" y1="99.0" x2="174.6" y2="100.0" stroke="#666" stroke-width="0.45"/>
<line x1="178.1" y1="99.0" x2="178.1" y2="100.0" stroke="#666" stroke-width="0.45"/>
<line x1="180.6" y1="99.0" x2="180.6" y2="100.0" stroke="#666" stroke-width="0.45"/>
<line x1="182.5" y1="99.0" x2="182.5" y2="100.0" stroke="#666" stroke-width="0.45"/>
<line x1="184.1" y1="99.0" x2="184.1" y2="100.0" stroke="#666" stroke-width="0.45"/>
<line x1="185.4" y1="99.0" x2="185.4" y2="100.0" stroke="#666" stroke-width="0.45"/>
<line x1="186.6" y1="99.0" x2="186.6" y2="100.0" stroke="#666" stroke-width="0.45"/>
<line x1="187.6" y1="99.0" x2="187.6" y2="100.0" stroke="#666" stroke-width="0.45"/>
<line x1="188.5" y1="99.0" x2="188.5" y2="100.8" stroke="#444" stroke-width="0.6"/>
<text x="188.5" y="108.6" font-size="4.6" text-anchor="middle" fill="#555">10<tspan dy="-1.7" font-size="3.59">1</tspan></text>
<line x1="194.5" y1="99.0" x2="194.5" y2="100.0" stroke="#666" stroke-width="0.45"/>
<line x1="198.0" y1="99.0" x2="198.0" y2="100.0" stroke="#666" stroke-width="0.45"/>
<line x1="200.5" y1="99.0" x2="200.5" y2="100.0" stroke="#666" stroke-width="0.45"/>
<line x1="202.4" y1="99.0" x2="202.4" y2="100.0" stroke="#666" stroke-width="0.45"/>
<line x1="204.0" y1="99.0" x2="204.0" y2="100.0" stroke="#666" stroke-width="0.45"/>
<line x1="205.3" y1="99.0" x2="205.3" y2="100.0" stroke="#666" stroke-width="0.45"/>
<line x1="206.5" y1="99.0" x2="206.5" y2="100.0" stroke="#666" stroke-width="0.45"/>
<line x1="207.5" y1="99.0" x2="207.5" y2="100.0" stroke="#666" stroke-width="0.45"/>
<line x1="208.4" y1="99.0" x2="208.4" y2="100.8" stroke="#444" stroke-width="0.6"/>
<text x="208.4" y="108.6" font-size="4.6" text-anchor="middle" fill="#555">10<tspan dy="-1.7" font-size="3.59">2</tspan></text>
<line x1="214.4" y1="99.0" x2="214.4" y2="100.0" stroke="#666" stroke-width="0.45"/>
<line x1="217.9" y1="99.0" x2="217.9" y2="100.0" stroke="#666" stroke-width="0.45"/>
<line x1="220.4" y1="99.0" x2="220.4" y2="100.0" stroke="#666" stroke-width="0.45"/>
<line x1="222.3" y1="99.0" x2="222.3" y2="100.0" stroke="#666" stroke-width="0.45"/>
<line x1="223.9" y1="99.0" x2="223.9" y2="100.0" stroke="#666" stroke-width="0.45"/>
<line x1="225.2" y1="99.0" x2="225.2" y2="100.0" stroke="#666" stroke-width="0.45"/>
<line x1="226.4" y1="99.0" x2="226.4" y2="100.0" stroke="#666" stroke-width="0.45"/>
<line x1="227.4" y1="99.0" x2="227.4" y2="100.0" stroke="#666" stroke-width="0.45"/>
<line x1="228.3" y1="99.0" x2="228.3" y2="100.8" stroke="#444" stroke-width="0.6"/>
<text x="228.3" y="108.6" font-size="4.6" text-anchor="middle" fill="#555">10<tspan dy="-1.7" font-size="3.59">3</tspan></text>
<line x1="234.3" y1="99.0" x2="234.3" y2="100.0" stroke="#666" stroke-width="0.45"/>
<line x1="237.8" y1="99.0" x2="237.8" y2="100.0" stroke="#666" stroke-width="0.45"/>
<line x1="240.3" y1="99.0" x2="240.3" y2="100.0" stroke="#666" stroke-width="0.45"/>
<line x1="242.2" y1="99.0" x2="242.2" y2="100.0" stroke="#666" stroke-width="0.45"/>
<line x1="243.8" y1="99.0" x2="243.8" y2="100.0" stroke="#666" stroke-width="0.45"/>
<line x1="245.1" y1="99.0" x2="245.1" y2="100.0" stroke="#666" stroke-width="0.45"/>
<line x1="246.3" y1="99.0" x2="246.3" y2="100.0" stroke="#666" stroke-width="0.45"/>
<line x1="247.3" y1="99.0" x2="247.3" y2="100.0" stroke="#666" stroke-width="0.45"/>
<line x1="248.2" y1="99.0" x2="248.2" y2="100.8" stroke="#444" stroke-width="0.6"/>
<text x="248.2" y="108.6" font-size="4.6" text-anchor="middle" fill="#555">10<tspan dy="-1.7" font-size="3.59">4</tspan></text>
<path d="M279.6,14.7 H364.9 V99.0" fill="none" stroke="#7a7a7a" stroke-width="0.9"/>
<path d="M279.6,14.299999999999999 V99.0 H365.29999999999995" fill="none" stroke="#3c3c3c" stroke-width="1.5"/>
<line x1="277.8" y1="98.4" x2="279.6" y2="98.4" stroke="#444" stroke-width="0.7"/>
<text x="273.4" y="100.0" font-size="4.6" text-anchor="middle" fill="#555">10<tspan dy="-1.7" font-size="3.59">0</tspan></text>
<line x1="278.6" y1="92.3" x2="279.6" y2="92.3" stroke="#666" stroke-width="0.45"/>
<line x1="278.6" y1="88.8" x2="279.6" y2="88.8" stroke="#666" stroke-width="0.45"/>
<line x1="278.6" y1="86.2" x2="279.6" y2="86.2" stroke="#666" stroke-width="0.45"/>
<line x1="278.6" y1="84.3" x2="279.6" y2="84.3" stroke="#666" stroke-width="0.45"/>
<line x1="278.6" y1="82.7" x2="279.6" y2="82.7" stroke="#666" stroke-width="0.45"/>
<line x1="278.6" y1="81.3" x2="279.6" y2="81.3" stroke="#666" stroke-width="0.45"/>
<line x1="278.6" y1="80.2" x2="279.6" y2="80.2" stroke="#666" stroke-width="0.45"/>
<line x1="278.6" y1="79.1" x2="279.6" y2="79.1" stroke="#666" stroke-width="0.45"/>
<line x1="277.8" y1="78.2" x2="279.6" y2="78.2" stroke="#444" stroke-width="0.7"/>
<text x="273.4" y="79.8" font-size="4.6" text-anchor="middle" fill="#555">10<tspan dy="-1.7" font-size="3.59">1</tspan></text>
<line x1="278.6" y1="72.1" x2="279.6" y2="72.1" stroke="#666" stroke-width="0.45"/>
<line x1="278.6" y1="68.6" x2="279.6" y2="68.6" stroke="#666" stroke-width="0.45"/>
<line x1="278.6" y1="66.0" x2="279.6" y2="66.0" stroke="#666" stroke-width="0.45"/>
<line x1="278.6" y1="64.1" x2="279.6" y2="64.1" stroke="#666" stroke-width="0.45"/>
<line x1="278.6" y1="62.5" x2="279.6" y2="62.5" stroke="#666" stroke-width="0.45"/>
<line x1="278.6" y1="61.1" x2="279.6" y2="61.1" stroke="#666" stroke-width="0.45"/>
<line x1="278.6" y1="60.0" x2="279.6" y2="60.0" stroke="#666" stroke-width="0.45"/>
<line x1="278.6" y1="58.9" x2="279.6" y2="58.9" stroke="#666" stroke-width="0.45"/>
<line x1="277.8" y1="58.0" x2="279.6" y2="58.0" stroke="#444" stroke-width="0.7"/>
<text x="273.4" y="59.6" font-size="4.6" text-anchor="middle" fill="#555">10<tspan dy="-1.7" font-size="3.59">2</tspan></text>
<line x1="278.6" y1="51.9" x2="279.6" y2="51.9" stroke="#666" stroke-width="0.45"/>
<line x1="278.6" y1="48.4" x2="279.6" y2="48.4" stroke="#666" stroke-width="0.45"/>
<line x1="278.6" y1="45.8" x2="279.6" y2="45.8" stroke="#666" stroke-width="0.45"/>
<line x1="278.6" y1="43.9" x2="279.6" y2="43.9" stroke="#666" stroke-width="0.45"/>
<line x1="278.6" y1="42.3" x2="279.6" y2="42.3" stroke="#666" stroke-width="0.45"/>
<line x1="278.6" y1="40.9" x2="279.6" y2="40.9" stroke="#666" stroke-width="0.45"/>
<line x1="278.6" y1="39.8" x2="279.6" y2="39.8" stroke="#666" stroke-width="0.45"/>
<line x1="278.6" y1="38.7" x2="279.6" y2="38.7" stroke="#666" stroke-width="0.45"/>
<line x1="277.8" y1="37.8" x2="279.6" y2="37.8" stroke="#444" stroke-width="0.7"/>
<text x="273.4" y="39.4" font-size="4.6" text-anchor="middle" fill="#555">10<tspan dy="-1.7" font-size="3.59">3</tspan></text>
<line x1="278.6" y1="31.7" x2="279.6" y2="31.7" stroke="#666" stroke-width="0.45"/>
<line x1="278.6" y1="28.2" x2="279.6" y2="28.2" stroke="#666" stroke-width="0.45"/>
<line x1="278.6" y1="25.6" x2="279.6" y2="25.6" stroke="#666" stroke-width="0.45"/>
<line x1="278.6" y1="23.7" x2="279.6" y2="23.7" stroke="#666" stroke-width="0.45"/>
<line x1="278.6" y1="22.1" x2="279.6" y2="22.1" stroke="#666" stroke-width="0.45"/>
<line x1="278.6" y1="20.7" x2="279.6" y2="20.7" stroke="#666" stroke-width="0.45"/>
<line x1="278.6" y1="19.6" x2="279.6" y2="19.6" stroke="#666" stroke-width="0.45"/>
<line x1="278.6" y1="18.5" x2="279.6" y2="18.5" stroke="#666" stroke-width="0.45"/>
<line x1="277.8" y1="17.6" x2="279.6" y2="17.6" stroke="#444" stroke-width="0.7"/>
<text x="273.4" y="23.8" font-size="4.6" text-anchor="middle" fill="#555">10<tspan dy="-1.7" font-size="3.59">4</tspan></text>
<line x1="282.8" y1="99.0" x2="282.8" y2="100.8" stroke="#444" stroke-width="0.6"/>
<text x="282.8" y="108.6" font-size="4.6" text-anchor="middle" fill="#555">10<tspan dy="-1.7" font-size="3.59">0</tspan></text>
<line x1="288.8" y1="99.0" x2="288.8" y2="100.0" stroke="#666" stroke-width="0.45"/>
<line x1="292.3" y1="99.0" x2="292.3" y2="100.0" stroke="#666" stroke-width="0.45"/>
<line x1="294.8" y1="99.0" x2="294.8" y2="100.0" stroke="#666" stroke-width="0.45"/>
<line x1="296.7" y1="99.0" x2="296.7" y2="100.0" stroke="#666" stroke-width="0.45"/>
<line x1="298.3" y1="99.0" x2="298.3" y2="100.0" stroke="#666" stroke-width="0.45"/>
<line x1="299.6" y1="99.0" x2="299.6" y2="100.0" stroke="#666" stroke-width="0.45"/>
<line x1="300.8" y1="99.0" x2="300.8" y2="100.0" stroke="#666" stroke-width="0.45"/>
<line x1="301.8" y1="99.0" x2="301.8" y2="100.0" stroke="#666" stroke-width="0.45"/>
<line x1="302.7" y1="99.0" x2="302.7" y2="100.8" stroke="#444" stroke-width="0.6"/>
<text x="302.7" y="108.6" font-size="4.6" text-anchor="middle" fill="#555">-10<tspan dy="-1.7" font-size="3.5">1</tspan></text>
<line x1="308.7" y1="99.0" x2="308.7" y2="100.0" stroke="#666" stroke-width="0.45"/>
<line x1="312.2" y1="99.0" x2="312.2" y2="100.0" stroke="#666" stroke-width="0.45"/>
<line x1="314.7" y1="99.0" x2="314.7" y2="100.0" stroke="#666" stroke-width="0.45"/>
<line x1="316.6" y1="99.0" x2="316.6" y2="100.0" stroke="#666" stroke-width="0.45"/>
<line x1="318.2" y1="99.0" x2="318.2" y2="100.0" stroke="#666" stroke-width="0.45"/>
<line x1="319.5" y1="99.0" x2="319.5" y2="100.0" stroke="#666" stroke-width="0.45"/>
<line x1="320.7" y1="99.0" x2="320.7" y2="100.0" stroke="#666" stroke-width="0.45"/>
<line x1="321.7" y1="99.0" x2="321.7" y2="100.0" stroke="#666" stroke-width="0.45"/>
<line x1="322.6" y1="99.0" x2="322.6" y2="100.8" stroke="#444" stroke-width="0.6"/>
<text x="322.6" y="108.6" font-size="4.6" text-anchor="middle" fill="#555">10<tspan dy="-1.7" font-size="3.59">2</tspan></text>
<line x1="328.6" y1="99.0" x2="328.6" y2="100.0" stroke="#666" stroke-width="0.45"/>
<line x1="332.1" y1="99.0" x2="332.1" y2="100.0" stroke="#666" stroke-width="0.45"/>
<line x1="334.6" y1="99.0" x2="334.6" y2="100.0" stroke="#666" stroke-width="0.45"/>
<line x1="336.5" y1="99.0" x2="336.5" y2="100.0" stroke="#666" stroke-width="0.45"/>
<line x1="338.1" y1="99.0" x2="338.1" y2="100.0" stroke="#666" stroke-width="0.45"/>
<line x1="339.4" y1="99.0" x2="339.4" y2="100.0" stroke="#666" stroke-width="0.45"/>
<line x1="340.6" y1="99.0" x2="340.6" y2="100.0" stroke="#666" stroke-width="0.45"/>
<line x1="341.6" y1="99.0" x2="341.6" y2="100.0" stroke="#666" stroke-width="0.45"/>
<line x1="342.5" y1="99.0" x2="342.5" y2="100.8" stroke="#444" stroke-width="0.6"/>
<text x="342.5" y="108.6" font-size="4.6" text-anchor="middle" fill="#555">10<tspan dy="-1.7" font-size="3.59">3</tspan></text>
<line x1="348.5" y1="99.0" x2="348.5" y2="100.0" stroke="#666" stroke-width="0.45"/>
<line x1="352.0" y1="99.0" x2="352.0" y2="100.0" stroke="#666" stroke-width="0.45"/>
<line x1="354.5" y1="99.0" x2="354.5" y2="100.0" stroke="#666" stroke-width="0.45"/>
<line x1="356.4" y1="99.0" x2="356.4" y2="100.0" stroke="#666" stroke-width="0.45"/>
<line x1="358.0" y1="99.0" x2="358.0" y2="100.0" stroke="#666" stroke-width="0.45"/>
<line x1="359.3" y1="99.0" x2="359.3" y2="100.0" stroke="#666" stroke-width="0.45"/>
<line x1="360.5" y1="99.0" x2="360.5" y2="100.0" stroke="#666" stroke-width="0.45"/>
<line x1="361.5" y1="99.0" x2="361.5" y2="100.0" stroke="#666" stroke-width="0.45"/>
<line x1="362.4" y1="99.0" x2="362.4" y2="100.8" stroke="#444" stroke-width="0.6"/>
<text x="362.4" y="108.6" font-size="4.6" text-anchor="middle" fill="#555">10<tspan dy="-1.7" font-size="3.59">4</tspan></text>
<path d="M52.3,117.3 H136.8 V201.3" fill="none" stroke="#7a7a7a" stroke-width="0.9"/>
<path d="M52.3,116.89999999999999 V201.3 H137.20000000000002" fill="none" stroke="#3c3c3c" stroke-width="1.5"/>
<line x1="50.5" y1="200.7" x2="52.3" y2="200.7" stroke="#444" stroke-width="0.7"/>
<text x="46.1" y="202.3" font-size="4.6" text-anchor="middle" fill="#555">10<tspan dy="-1.7" font-size="3.59">0</tspan></text>
<line x1="51.3" y1="194.6" x2="52.3" y2="194.6" stroke="#666" stroke-width="0.45"/>
<line x1="51.3" y1="191.1" x2="52.3" y2="191.1" stroke="#666" stroke-width="0.45"/>
<line x1="51.3" y1="188.5" x2="52.3" y2="188.5" stroke="#666" stroke-width="0.45"/>
<line x1="51.3" y1="186.6" x2="52.3" y2="186.6" stroke="#666" stroke-width="0.45"/>
<line x1="51.3" y1="185.0" x2="52.3" y2="185.0" stroke="#666" stroke-width="0.45"/>
<line x1="51.3" y1="183.6" x2="52.3" y2="183.6" stroke="#666" stroke-width="0.45"/>
<line x1="51.3" y1="182.5" x2="52.3" y2="182.5" stroke="#666" stroke-width="0.45"/>
<line x1="51.3" y1="181.4" x2="52.3" y2="181.4" stroke="#666" stroke-width="0.45"/>
<line x1="50.5" y1="180.5" x2="52.3" y2="180.5" stroke="#444" stroke-width="0.7"/>
<text x="46.1" y="182.1" font-size="4.6" text-anchor="middle" fill="#555">10<tspan dy="-1.7" font-size="3.59">1</tspan></text>
<line x1="51.3" y1="174.4" x2="52.3" y2="174.4" stroke="#666" stroke-width="0.45"/>
<line x1="51.3" y1="170.9" x2="52.3" y2="170.9" stroke="#666" stroke-width="0.45"/>
<line x1="51.3" y1="168.3" x2="52.3" y2="168.3" stroke="#666" stroke-width="0.45"/>
<line x1="51.3" y1="166.4" x2="52.3" y2="166.4" stroke="#666" stroke-width="0.45"/>
<line x1="51.3" y1="164.8" x2="52.3" y2="164.8" stroke="#666" stroke-width="0.45"/>
<line x1="51.3" y1="163.4" x2="52.3" y2="163.4" stroke="#666" stroke-width="0.45"/>
<line x1="51.3" y1="162.3" x2="52.3" y2="162.3" stroke="#666" stroke-width="0.45"/>
<line x1="51.3" y1="161.2" x2="52.3" y2="161.2" stroke="#666" stroke-width="0.45"/>
<line x1="50.5" y1="160.3" x2="52.3" y2="160.3" stroke="#444" stroke-width="0.7"/>
<text x="46.1" y="161.9" font-size="4.6" text-anchor="middle" fill="#555">10<tspan dy="-1.7" font-size="3.59">2</tspan></text>
<line x1="51.3" y1="154.2" x2="52.3" y2="154.2" stroke="#666" stroke-width="0.45"/>
<line x1="51.3" y1="150.7" x2="52.3" y2="150.7" stroke="#666" stroke-width="0.45"/>
<line x1="51.3" y1="148.1" x2="52.3" y2="148.1" stroke="#666" stroke-width="0.45"/>
<line x1="51.3" y1="146.2" x2="52.3" y2="146.2" stroke="#666" stroke-width="0.45"/>
<line x1="51.3" y1="144.6" x2="52.3" y2="144.6" stroke="#666" stroke-width="0.45"/>
<line x1="51.3" y1="143.2" x2="52.3" y2="143.2" stroke="#666" stroke-width="0.45"/>
<line x1="51.3" y1="142.1" x2="52.3" y2="142.1" stroke="#666" stroke-width="0.45"/>
<line x1="51.3" y1="141.0" x2="52.3" y2="141.0" stroke="#666" stroke-width="0.45"/>
<line x1="50.5" y1="140.1" x2="52.3" y2="140.1" stroke="#444" stroke-width="0.7"/>
<text x="46.1" y="141.7" font-size="4.6" text-anchor="middle" fill="#555">10<tspan dy="-1.7" font-size="3.59">3</tspan></text>
<line x1="51.3" y1="134.0" x2="52.3" y2="134.0" stroke="#666" stroke-width="0.45"/>
<line x1="51.3" y1="130.5" x2="52.3" y2="130.5" stroke="#666" stroke-width="0.45"/>
<line x1="51.3" y1="127.9" x2="52.3" y2="127.9" stroke="#666" stroke-width="0.45"/>
<line x1="51.3" y1="126.0" x2="52.3" y2="126.0" stroke="#666" stroke-width="0.45"/>
<line x1="51.3" y1="124.4" x2="52.3" y2="124.4" stroke="#666" stroke-width="0.45"/>
<line x1="51.3" y1="123.0" x2="52.3" y2="123.0" stroke="#666" stroke-width="0.45"/>
<line x1="51.3" y1="121.9" x2="52.3" y2="121.9" stroke="#666" stroke-width="0.45"/>
<line x1="51.3" y1="120.8" x2="52.3" y2="120.8" stroke="#666" stroke-width="0.45"/>
<line x1="50.5" y1="119.9" x2="52.3" y2="119.9" stroke="#444" stroke-width="0.7"/>
<text x="46.1" y="126.1" font-size="4.6" text-anchor="middle" fill="#555">10<tspan dy="-1.7" font-size="3.59">4</tspan></text>
<line x1="52.6" y1="201.3" x2="52.6" y2="203.10000000000002" stroke="#444" stroke-width="0.6"/>
<line x1="56.6" y1="201.3" x2="56.6" y2="202.3" stroke="#666" stroke-width="0.45"/>
<line x1="60.7" y1="201.3" x2="60.7" y2="202.3" stroke="#666" stroke-width="0.45"/>
<line x1="64.8" y1="201.3" x2="64.8" y2="202.3" stroke="#666" stroke-width="0.45"/>
<text x="52.6" y="210.1" font-size="4.6" text-anchor="middle" fill="#555">0</text>
<line x1="68.8" y1="201.3" x2="68.8" y2="203.10000000000002" stroke="#444" stroke-width="0.6"/>
<line x1="72.8" y1="201.3" x2="72.8" y2="202.3" stroke="#666" stroke-width="0.45"/>
<line x1="76.9" y1="201.3" x2="76.9" y2="202.3" stroke="#666" stroke-width="0.45"/>
<line x1="80.9" y1="201.3" x2="80.9" y2="202.3" stroke="#666" stroke-width="0.45"/>
<text x="68.8" y="210.1" font-size="4.6" text-anchor="middle" fill="#555">200</text>
<line x1="85.0" y1="201.3" x2="85.0" y2="203.10000000000002" stroke="#444" stroke-width="0.6"/>
<line x1="89.0" y1="201.3" x2="89.0" y2="202.3" stroke="#666" stroke-width="0.45"/>
<line x1="93.1" y1="201.3" x2="93.1" y2="202.3" stroke="#666" stroke-width="0.45"/>
<line x1="97.2" y1="201.3" x2="97.2" y2="202.3" stroke="#666" stroke-width="0.45"/>
<text x="85.0" y="210.1" font-size="4.6" text-anchor="middle" fill="#555">400</text>
<line x1="101.2" y1="201.3" x2="101.2" y2="203.10000000000002" stroke="#444" stroke-width="0.6"/>
<line x1="105.2" y1="201.3" x2="105.2" y2="202.3" stroke="#666" stroke-width="0.45"/>
<line x1="109.3" y1="201.3" x2="109.3" y2="202.3" stroke="#666" stroke-width="0.45"/>
<line x1="113.3" y1="201.3" x2="113.3" y2="202.3" stroke="#666" stroke-width="0.45"/>
<text x="101.2" y="210.1" font-size="4.6" text-anchor="middle" fill="#555">600</text>
<line x1="117.4" y1="201.3" x2="117.4" y2="203.10000000000002" stroke="#444" stroke-width="0.6"/>
<line x1="121.4" y1="201.3" x2="121.4" y2="202.3" stroke="#666" stroke-width="0.45"/>
<line x1="125.5" y1="201.3" x2="125.5" y2="202.3" stroke="#666" stroke-width="0.45"/>
<line x1="129.5" y1="201.3" x2="129.5" y2="202.3" stroke="#666" stroke-width="0.45"/>
<text x="117.4" y="210.1" font-size="4.6" text-anchor="middle" fill="#555">800</text>
<line x1="133.6" y1="201.3" x2="133.6" y2="203.10000000000002" stroke="#444" stroke-width="0.6"/>
<text x="133.6" y="210.1" font-size="4.6" text-anchor="middle" fill="#555">1K</text>
<path d="M165.4,117.3 H250.7 V201.3" fill="none" stroke="#7a7a7a" stroke-width="0.9"/>
<path d="M165.4,116.89999999999999 V201.3 H251.1" fill="none" stroke="#3c3c3c" stroke-width="1.5"/>
<line x1="163.6" y1="200.7" x2="165.4" y2="200.7" stroke="#444" stroke-width="0.7"/>
<text x="159.2" y="202.3" font-size="4.6" text-anchor="middle" fill="#555">10<tspan dy="-1.7" font-size="3.59">0</tspan></text>
<line x1="164.4" y1="194.6" x2="165.4" y2="194.6" stroke="#666" stroke-width="0.45"/>
<line x1="164.4" y1="191.1" x2="165.4" y2="191.1" stroke="#666" stroke-width="0.45"/>
<line x1="164.4" y1="188.5" x2="165.4" y2="188.5" stroke="#666" stroke-width="0.45"/>
<line x1="164.4" y1="186.6" x2="165.4" y2="186.6" stroke="#666" stroke-width="0.45"/>
<line x1="164.4" y1="185.0" x2="165.4" y2="185.0" stroke="#666" stroke-width="0.45"/>
<line x1="164.4" y1="183.6" x2="165.4" y2="183.6" stroke="#666" stroke-width="0.45"/>
<line x1="164.4" y1="182.5" x2="165.4" y2="182.5" stroke="#666" stroke-width="0.45"/>
<line x1="164.4" y1="181.4" x2="165.4" y2="181.4" stroke="#666" stroke-width="0.45"/>
<line x1="163.6" y1="180.5" x2="165.4" y2="180.5" stroke="#444" stroke-width="0.7"/>
<text x="159.2" y="182.1" font-size="4.6" text-anchor="middle" fill="#555">10<tspan dy="-1.7" font-size="3.59">1</tspan></text>
<line x1="164.4" y1="174.4" x2="165.4" y2="174.4" stroke="#666" stroke-width="0.45"/>
<line x1="164.4" y1="170.9" x2="165.4" y2="170.9" stroke="#666" stroke-width="0.45"/>
<line x1="164.4" y1="168.3" x2="165.4" y2="168.3" stroke="#666" stroke-width="0.45"/>
<line x1="164.4" y1="166.4" x2="165.4" y2="166.4" stroke="#666" stroke-width="0.45"/>
<line x1="164.4" y1="164.8" x2="165.4" y2="164.8" stroke="#666" stroke-width="0.45"/>
<line x1="164.4" y1="163.4" x2="165.4" y2="163.4" stroke="#666" stroke-width="0.45"/>
<line x1="164.4" y1="162.3" x2="165.4" y2="162.3" stroke="#666" stroke-width="0.45"/>
<line x1="164.4" y1="161.2" x2="165.4" y2="161.2" stroke="#666" stroke-width="0.45"/>
<line x1="163.6" y1="160.3" x2="165.4" y2="160.3" stroke="#444" stroke-width="0.7"/>
<text x="159.2" y="161.9" font-size="4.6" text-anchor="middle" fill="#555">10<tspan dy="-1.7" font-size="3.59">2</tspan></text>
<line x1="164.4" y1="154.2" x2="165.4" y2="154.2" stroke="#666" stroke-width="0.45"/>
<line x1="164.4" y1="150.7" x2="165.4" y2="150.7" stroke="#666" stroke-width="0.45"/>
<line x1="164.4" y1="148.1" x2="165.4" y2="148.1" stroke="#666" stroke-width="0.45"/>
<line x1="164.4" y1="146.2" x2="165.4" y2="146.2" stroke="#666" stroke-width="0.45"/>
<line x1="164.4" y1="144.6" x2="165.4" y2="144.6" stroke="#666" stroke-width="0.45"/>
<line x1="164.4" y1="143.2" x2="165.4" y2="143.2" stroke="#666" stroke-width="0.45"/>
<line x1="164.4" y1="142.1" x2="165.4" y2="142.1" stroke="#666" stroke-width="0.45"/>
<line x1="164.4" y1="141.0" x2="165.4" y2="141.0" stroke="#666" stroke-width="0.45"/>
<line x1="163.6" y1="140.1" x2="165.4" y2="140.1" stroke="#444" stroke-width="0.7"/>
<text x="159.2" y="141.7" font-size="4.6" text-anchor="middle" fill="#555">10<tspan dy="-1.7" font-size="3.59">3</tspan></text>
<line x1="164.4" y1="134.0" x2="165.4" y2="134.0" stroke="#666" stroke-width="0.45"/>
<line x1="164.4" y1="130.5" x2="165.4" y2="130.5" stroke="#666" stroke-width="0.45"/>
<line x1="164.4" y1="127.9" x2="165.4" y2="127.9" stroke="#666" stroke-width="0.45"/>
<line x1="164.4" y1="126.0" x2="165.4" y2="126.0" stroke="#666" stroke-width="0.45"/>
<line x1="164.4" y1="124.4" x2="165.4" y2="124.4" stroke="#666" stroke-width="0.45"/>
<line x1="164.4" y1="123.0" x2="165.4" y2="123.0" stroke="#666" stroke-width="0.45"/>
<line x1="164.4" y1="121.9" x2="165.4" y2="121.9" stroke="#666" stroke-width="0.45"/>
<line x1="164.4" y1="120.8" x2="165.4" y2="120.8" stroke="#666" stroke-width="0.45"/>
<line x1="163.6" y1="119.9" x2="165.4" y2="119.9" stroke="#444" stroke-width="0.7"/>
<text x="159.2" y="126.1" font-size="4.6" text-anchor="middle" fill="#555">10<tspan dy="-1.7" font-size="3.59">4</tspan></text>
<line x1="168.6" y1="201.3" x2="168.6" y2="203.10000000000002" stroke="#444" stroke-width="0.6"/>
<text x="168.6" y="210.9" font-size="4.6" text-anchor="middle" fill="#555">10<tspan dy="-1.7" font-size="3.59">0</tspan></text>
<line x1="174.6" y1="201.3" x2="174.6" y2="202.3" stroke="#666" stroke-width="0.45"/>
<line x1="178.1" y1="201.3" x2="178.1" y2="202.3" stroke="#666" stroke-width="0.45"/>
<line x1="180.6" y1="201.3" x2="180.6" y2="202.3" stroke="#666" stroke-width="0.45"/>
<line x1="182.5" y1="201.3" x2="182.5" y2="202.3" stroke="#666" stroke-width="0.45"/>
<line x1="184.1" y1="201.3" x2="184.1" y2="202.3" stroke="#666" stroke-width="0.45"/>
<line x1="185.4" y1="201.3" x2="185.4" y2="202.3" stroke="#666" stroke-width="0.45"/>
<line x1="186.6" y1="201.3" x2="186.6" y2="202.3" stroke="#666" stroke-width="0.45"/>
<line x1="187.6" y1="201.3" x2="187.6" y2="202.3" stroke="#666" stroke-width="0.45"/>
<line x1="188.5" y1="201.3" x2="188.5" y2="203.10000000000002" stroke="#444" stroke-width="0.6"/>
<text x="188.5" y="210.9" font-size="4.6" text-anchor="middle" fill="#555">10<tspan dy="-1.7" font-size="3.59">1</tspan></text>
<line x1="194.5" y1="201.3" x2="194.5" y2="202.3" stroke="#666" stroke-width="0.45"/>
<line x1="198.0" y1="201.3" x2="198.0" y2="202.3" stroke="#666" stroke-width="0.45"/>
<line x1="200.5" y1="201.3" x2="200.5" y2="202.3" stroke="#666" stroke-width="0.45"/>
<line x1="202.4" y1="201.3" x2="202.4" y2="202.3" stroke="#666" stroke-width="0.45"/>
<line x1="204.0" y1="201.3" x2="204.0" y2="202.3" stroke="#666" stroke-width="0.45"/>
<line x1="205.3" y1="201.3" x2="205.3" y2="202.3" stroke="#666" stroke-width="0.45"/>
<line x1="206.5" y1="201.3" x2="206.5" y2="202.3" stroke="#666" stroke-width="0.45"/>
<line x1="207.5" y1="201.3" x2="207.5" y2="202.3" stroke="#666" stroke-width="0.45"/>
<line x1="208.4" y1="201.3" x2="208.4" y2="203.10000000000002" stroke="#444" stroke-width="0.6"/>
<text x="208.4" y="210.9" font-size="4.6" text-anchor="middle" fill="#555">10<tspan dy="-1.7" font-size="3.59">2</tspan></text>
<line x1="214.4" y1="201.3" x2="214.4" y2="202.3" stroke="#666" stroke-width="0.45"/>
<line x1="217.9" y1="201.3" x2="217.9" y2="202.3" stroke="#666" stroke-width="0.45"/>
<line x1="220.4" y1="201.3" x2="220.4" y2="202.3" stroke="#666" stroke-width="0.45"/>
<line x1="222.3" y1="201.3" x2="222.3" y2="202.3" stroke="#666" stroke-width="0.45"/>
<line x1="223.9" y1="201.3" x2="223.9" y2="202.3" stroke="#666" stroke-width="0.45"/>
<line x1="225.2" y1="201.3" x2="225.2" y2="202.3" stroke="#666" stroke-width="0.45"/>
<line x1="226.4" y1="201.3" x2="226.4" y2="202.3" stroke="#666" stroke-width="0.45"/>
<line x1="227.4" y1="201.3" x2="227.4" y2="202.3" stroke="#666" stroke-width="0.45"/>
<line x1="228.3" y1="201.3" x2="228.3" y2="203.10000000000002" stroke="#444" stroke-width="0.6"/>
<text x="228.3" y="210.9" font-size="4.6" text-anchor="middle" fill="#555">10<tspan dy="-1.7" font-size="3.59">3</tspan></text>
<line x1="234.3" y1="201.3" x2="234.3" y2="202.3" stroke="#666" stroke-width="0.45"/>
<line x1="237.8" y1="201.3" x2="237.8" y2="202.3" stroke="#666" stroke-width="0.45"/>
<line x1="240.3" y1="201.3" x2="240.3" y2="202.3" stroke="#666" stroke-width="0.45"/>
<line x1="242.2" y1="201.3" x2="242.2" y2="202.3" stroke="#666" stroke-width="0.45"/>
<line x1="243.8" y1="201.3" x2="243.8" y2="202.3" stroke="#666" stroke-width="0.45"/>
<line x1="245.1" y1="201.3" x2="245.1" y2="202.3" stroke="#666" stroke-width="0.45"/>
<line x1="246.3" y1="201.3" x2="246.3" y2="202.3" stroke="#666" stroke-width="0.45"/>
<line x1="247.3" y1="201.3" x2="247.3" y2="202.3" stroke="#666" stroke-width="0.45"/>
<line x1="248.2" y1="201.3" x2="248.2" y2="203.10000000000002" stroke="#444" stroke-width="0.6"/>
<text x="248.2" y="210.9" font-size="4.6" text-anchor="middle" fill="#555">10<tspan dy="-1.7" font-size="3.59">4</tspan></text>
<path d="M279.6,117.3 H364.9 V201.3" fill="none" stroke="#7a7a7a" stroke-width="0.9"/>
<path d="M279.6,116.89999999999999 V201.3 H365.29999999999995" fill="none" stroke="#3c3c3c" stroke-width="1.5"/>
<line x1="277.8" y1="200.7" x2="279.6" y2="200.7" stroke="#444" stroke-width="0.7"/>
<text x="273.4" y="202.3" font-size="4.6" text-anchor="middle" fill="#555">10<tspan dy="-1.7" font-size="3.59">0</tspan></text>
<line x1="278.6" y1="194.6" x2="279.6" y2="194.6" stroke="#666" stroke-width="0.45"/>
<line x1="278.6" y1="191.1" x2="279.6" y2="191.1" stroke="#666" stroke-width="0.45"/>
<line x1="278.6" y1="188.5" x2="279.6" y2="188.5" stroke="#666" stroke-width="0.45"/>
<line x1="278.6" y1="186.6" x2="279.6" y2="186.6" stroke="#666" stroke-width="0.45"/>
<line x1="278.6" y1="185.0" x2="279.6" y2="185.0" stroke="#666" stroke-width="0.45"/>
<line x1="278.6" y1="183.6" x2="279.6" y2="183.6" stroke="#666" stroke-width="0.45"/>
<line x1="278.6" y1="182.5" x2="279.6" y2="182.5" stroke="#666" stroke-width="0.45"/>
<line x1="278.6" y1="181.4" x2="279.6" y2="181.4" stroke="#666" stroke-width="0.45"/>
<line x1="277.8" y1="180.5" x2="279.6" y2="180.5" stroke="#444" stroke-width="0.7"/>
<text x="273.4" y="182.1" font-size="4.6" text-anchor="middle" fill="#555">10<tspan dy="-1.7" font-size="3.59">1</tspan></text>
<line x1="278.6" y1="174.4" x2="279.6" y2="174.4" stroke="#666" stroke-width="0.45"/>
<line x1="278.6" y1="170.9" x2="279.6" y2="170.9" stroke="#666" stroke-width="0.45"/>
<line x1="278.6" y1="168.3" x2="279.6" y2="168.3" stroke="#666" stroke-width="0.45"/>
<line x1="278.6" y1="166.4" x2="279.6" y2="166.4" stroke="#666" stroke-width="0.45"/>
<line x1="278.6" y1="164.8" x2="279.6" y2="164.8" stroke="#666" stroke-width="0.45"/>
<line x1="278.6" y1="163.4" x2="279.6" y2="163.4" stroke="#666" stroke-width="0.45"/>
<line x1="278.6" y1="162.3" x2="279.6" y2="162.3" stroke="#666" stroke-width="0.45"/>
<line x1="278.6" y1="161.2" x2="279.6" y2="161.2" stroke="#666" stroke-width="0.45"/>
<line x1="277.8" y1="160.3" x2="279.6" y2="160.3" stroke="#444" stroke-width="0.7"/>
<text x="273.4" y="161.9" font-size="4.6" text-anchor="middle" fill="#555">10<tspan dy="-1.7" font-size="3.59">2</tspan></text>
<line x1="278.6" y1="154.2" x2="279.6" y2="154.2" stroke="#666" stroke-width="0.45"/>
<line x1="278.6" y1="150.7" x2="279.6" y2="150.7" stroke="#666" stroke-width="0.45"/>
<line x1="278.6" y1="148.1" x2="279.6" y2="148.1" stroke="#666" stroke-width="0.45"/>
<line x1="278.6" y1="146.2" x2="279.6" y2="146.2" stroke="#666" stroke-width="0.45"/>
<line x1="278.6" y1="144.6" x2="279.6" y2="144.6" stroke="#666" stroke-width="0.45"/>
<line x1="278.6" y1="143.2" x2="279.6" y2="143.2" stroke="#666" stroke-width="0.45"/>
<line x1="278.6" y1="142.1" x2="279.6" y2="142.1" stroke="#666" stroke-width="0.45"/>
<line x1="278.6" y1="141.0" x2="279.6" y2="141.0" stroke="#666" stroke-width="0.45"/>
<line x1="277.8" y1="140.1" x2="279.6" y2="140.1" stroke="#444" stroke-width="0.7"/>
<text x="273.4" y="141.7" font-size="4.6" text-anchor="middle" fill="#555">10<tspan dy="-1.7" font-size="3.59">3</tspan></text>
<line x1="278.6" y1="134.0" x2="279.6" y2="134.0" stroke="#666" stroke-width="0.45"/>
<line x1="278.6" y1="130.5" x2="279.6" y2="130.5" stroke="#666" stroke-width="0.45"/>
<line x1="278.6" y1="127.9" x2="279.6" y2="127.9" stroke="#666" stroke-width="0.45"/>
<line x1="278.6" y1="126.0" x2="279.6" y2="126.0" stroke="#666" stroke-width="0.45"/>
<line x1="278.6" y1="124.4" x2="279.6" y2="124.4" stroke="#666" stroke-width="0.45"/>
<line x1="278.6" y1="123.0" x2="279.6" y2="123.0" stroke="#666" stroke-width="0.45"/>
<line x1="278.6" y1="121.9" x2="279.6" y2="121.9" stroke="#666" stroke-width="0.45"/>
<line x1="278.6" y1="120.8" x2="279.6" y2="120.8" stroke="#666" stroke-width="0.45"/>
<line x1="277.8" y1="119.9" x2="279.6" y2="119.9" stroke="#444" stroke-width="0.7"/>
<text x="273.4" y="126.1" font-size="4.6" text-anchor="middle" fill="#555">10<tspan dy="-1.7" font-size="3.59">4</tspan></text>
<line x1="282.8" y1="201.3" x2="282.8" y2="203.10000000000002" stroke="#444" stroke-width="0.6"/>
<text x="282.8" y="210.9" font-size="4.6" text-anchor="middle" fill="#555">10<tspan dy="-1.7" font-size="3.59">0</tspan></text>
<line x1="288.8" y1="201.3" x2="288.8" y2="202.3" stroke="#666" stroke-width="0.45"/>
<line x1="292.3" y1="201.3" x2="292.3" y2="202.3" stroke="#666" stroke-width="0.45"/>
<line x1="294.8" y1="201.3" x2="294.8" y2="202.3" stroke="#666" stroke-width="0.45"/>
<line x1="296.7" y1="201.3" x2="296.7" y2="202.3" stroke="#666" stroke-width="0.45"/>
<line x1="298.3" y1="201.3" x2="298.3" y2="202.3" stroke="#666" stroke-width="0.45"/>
<line x1="299.6" y1="201.3" x2="299.6" y2="202.3" stroke="#666" stroke-width="0.45"/>
<line x1="300.8" y1="201.3" x2="300.8" y2="202.3" stroke="#666" stroke-width="0.45"/>
<line x1="301.8" y1="201.3" x2="301.8" y2="202.3" stroke="#666" stroke-width="0.45"/>
<line x1="302.7" y1="201.3" x2="302.7" y2="203.10000000000002" stroke="#444" stroke-width="0.6"/>
<text x="302.7" y="210.9" font-size="4.6" text-anchor="middle" fill="#555">-10<tspan dy="-1.7" font-size="3.5">1</tspan></text>
<line x1="308.7" y1="201.3" x2="308.7" y2="202.3" stroke="#666" stroke-width="0.45"/>
<line x1="312.2" y1="201.3" x2="312.2" y2="202.3" stroke="#666" stroke-width="0.45"/>
<line x1="314.7" y1="201.3" x2="314.7" y2="202.3" stroke="#666" stroke-width="0.45"/>
<line x1="316.6" y1="201.3" x2="316.6" y2="202.3" stroke="#666" stroke-width="0.45"/>
<line x1="318.2" y1="201.3" x2="318.2" y2="202.3" stroke="#666" stroke-width="0.45"/>
<line x1="319.5" y1="201.3" x2="319.5" y2="202.3" stroke="#666" stroke-width="0.45"/>
<line x1="320.7" y1="201.3" x2="320.7" y2="202.3" stroke="#666" stroke-width="0.45"/>
<line x1="321.7" y1="201.3" x2="321.7" y2="202.3" stroke="#666" stroke-width="0.45"/>
<line x1="322.6" y1="201.3" x2="322.6" y2="203.10000000000002" stroke="#444" stroke-width="0.6"/>
<text x="322.6" y="210.9" font-size="4.6" text-anchor="middle" fill="#555">10<tspan dy="-1.7" font-size="3.59">2</tspan></text>
<line x1="328.6" y1="201.3" x2="328.6" y2="202.3" stroke="#666" stroke-width="0.45"/>
<line x1="332.1" y1="201.3" x2="332.1" y2="202.3" stroke="#666" stroke-width="0.45"/>
<line x1="334.6" y1="201.3" x2="334.6" y2="202.3" stroke="#666" stroke-width="0.45"/>
<line x1="336.5" y1="201.3" x2="336.5" y2="202.3" stroke="#666" stroke-width="0.45"/>
<line x1="338.1" y1="201.3" x2="338.1" y2="202.3" stroke="#666" stroke-width="0.45"/>
<line x1="339.4" y1="201.3" x2="339.4" y2="202.3" stroke="#666" stroke-width="0.45"/>
<line x1="340.6" y1="201.3" x2="340.6" y2="202.3" stroke="#666" stroke-width="0.45"/>
<line x1="341.6" y1="201.3" x2="341.6" y2="202.3" stroke="#666" stroke-width="0.45"/>
<line x1="342.5" y1="201.3" x2="342.5" y2="203.10000000000002" stroke="#444" stroke-width="0.6"/>
<text x="342.5" y="210.9" font-size="4.6" text-anchor="middle" fill="#555">10<tspan dy="-1.7" font-size="3.59">3</tspan></text>
<line x1="348.5" y1="201.3" x2="348.5" y2="202.3" stroke="#666" stroke-width="0.45"/>
<line x1="352.0" y1="201.3" x2="352.0" y2="202.3" stroke="#666" stroke-width="0.45"/>
<line x1="354.5" y1="201.3" x2="354.5" y2="202.3" stroke="#666" stroke-width="0.45"/>
<line x1="356.4" y1="201.3" x2="356.4" y2="202.3" stroke="#666" stroke-width="0.45"/>
<line x1="358.0" y1="201.3" x2="358.0" y2="202.3" stroke="#666" stroke-width="0.45"/>
<line x1="359.3" y1="201.3" x2="359.3" y2="202.3" stroke="#666" stroke-width="0.45"/>
<line x1="360.5" y1="201.3" x2="360.5" y2="202.3" stroke="#666" stroke-width="0.45"/>
<line x1="361.5" y1="201.3" x2="361.5" y2="202.3" stroke="#666" stroke-width="0.45"/>
<line x1="362.4" y1="201.3" x2="362.4" y2="203.10000000000002" stroke="#444" stroke-width="0.6"/>
<text x="362.4" y="210.9" font-size="4.6" text-anchor="middle" fill="#555">10<tspan dy="-1.7" font-size="3.59">4</tspan></text>
<rect x="75.5" y="69.2" width="61.3" height="29.8" fill="none" stroke="#505050" stroke-width="0.7"/>
<rect x="75.5" y="171.8" width="61.3" height="29.5" fill="none" stroke="#505050" stroke-width="0.7"/>
<rect x="195.3" y="46.8" width="35.3" height="26.7" fill="none" stroke="#505050" stroke-width="0.7"/>
<rect x="195.3" y="150.0" width="35.3" height="26.0" fill="none" stroke="#505050" stroke-width="0.7"/>
<rect x="279.6" y="34.4" width="40.9" height="30.6" fill="none" stroke="#505050" stroke-width="0.7"/>
<rect x="279.6" y="136.4" width="40.8" height="30.6" fill="none" stroke="#505050" stroke-width="0.7"/>
<line x1="35.4" y1="202.2" x2="35.4" y2="144.5" stroke="#000" stroke-width="1.3"/>
<path d="M31.2,150.2 L35.4,143.4 L39.6,150.2" fill="none" stroke="#000" stroke-width="1.35" stroke-linejoin="miter"/>
<line x1="150.8" y1="202.2" x2="150.8" y2="144.5" stroke="#000" stroke-width="1.3"/>
<path d="M146.60000000000002,150.2 L150.8,143.4 L155.0,150.2" fill="none" stroke="#000" stroke-width="1.35" stroke-linejoin="miter"/>
<line x1="264.0" y1="202.2" x2="264.0" y2="144.5" stroke="#000" stroke-width="1.3"/>
<path d="M259.8,150.2 L264.0,143.4 L268.2,150.2" fill="none" stroke="#000" stroke-width="1.35" stroke-linejoin="miter"/>
<path d="M427.0,4.6 V80.8 H485.1" fill="none" stroke="#1a1a1a" stroke-width="1.2"/>
<line x1="425.0" y1="5.7" x2="427.0" y2="5.7" stroke="#222" stroke-width="0.8"/>
<text transform="translate(425.41,7.77) scale(1.0,1)" font-size="6.9" text-anchor="end" fill="#333" stroke="#333" stroke-width="0.25">0.04</text>
<line x1="425.0" y1="24.5" x2="427.0" y2="24.5" stroke="#222" stroke-width="0.8"/>
<text transform="translate(425.41,26.57) scale(1.0,1)" font-size="6.9" text-anchor="end" fill="#333" stroke="#333" stroke-width="0.25">0.03</text>
<line x1="425.0" y1="43.3" x2="427.0" y2="43.3" stroke="#222" stroke-width="0.8"/>
<text transform="translate(425.41,45.37) scale(1.0,1)" font-size="6.9" text-anchor="end" fill="#333" stroke="#333" stroke-width="0.25">0.02</text>
<line x1="425.0" y1="62.0" x2="427.0" y2="62.0" stroke="#222" stroke-width="0.8"/>
<text transform="translate(425.41,64.07) scale(1.0,1)" font-size="6.9" text-anchor="end" fill="#333" stroke="#333" stroke-width="0.25">0.01</text>
<line x1="425.0" y1="80.8" x2="427.0" y2="80.8" stroke="#222" stroke-width="0.8"/>
<text transform="translate(425.41,82.87) scale(1.0,1)" font-size="6.9" text-anchor="end" fill="#333" stroke="#333" stroke-width="0.25">0.00</text>
<rect x="432.5" y="34.2" width="19.5" height="46.6" fill="#fff" stroke="#111" stroke-width="1.0"/>
<path d="M442.2,34.2 V30.3 M437.9,30.3 H446.6" stroke="#111" stroke-width="1.1" fill="none"/>
<rect x="461.4" y="20.0" width="19.0" height="60.8" fill="#000" stroke="#111" stroke-width="1.0"/>
<path d="M470.9,20.0 V16.3 M466.3,16.3 H475.5" stroke="#111" stroke-width="1.1" fill="none"/>
<path d="M427.6,126.8 V214.7 H485.1" fill="none" stroke="#1a1a1a" stroke-width="1.2"/>
<line x1="425.6" y1="127.4" x2="427.6" y2="127.4" stroke="#222" stroke-width="0.8"/>
<text transform="translate(425.29,128.93) scale(1.2,1)" font-size="5.4" text-anchor="end" fill="#333" stroke="#333" stroke-width="0.25">10000</text>
<line x1="425.6" y1="144.7" x2="427.6" y2="144.7" stroke="#222" stroke-width="0.8"/>
<text transform="translate(425.29,146.23) scale(1.2,1)" font-size="5.4" text-anchor="end" fill="#333" stroke="#333" stroke-width="0.25">8000</text>
<line x1="425.6" y1="162.2" x2="427.6" y2="162.2" stroke="#222" stroke-width="0.8"/>
<text transform="translate(425.29,163.73) scale(1.2,1)" font-size="5.4" text-anchor="end" fill="#333" stroke="#333" stroke-width="0.25">6000</text>
<line x1="425.6" y1="180.0" x2="427.6" y2="180.0" stroke="#222" stroke-width="0.8"/>
<text transform="translate(425.29,181.53) scale(1.2,1)" font-size="5.4" text-anchor="end" fill="#333" stroke="#333" stroke-width="0.25">4000</text>
<line x1="425.6" y1="197.5" x2="427.6" y2="197.5" stroke="#222" stroke-width="0.8"/>
<text transform="translate(425.29,199.03) scale(1.2,1)" font-size="5.4" text-anchor="end" fill="#333" stroke="#333" stroke-width="0.25">2000</text>
<line x1="425.6" y1="214.7" x2="427.6" y2="214.7" stroke="#222" stroke-width="0.8"/>
<text transform="translate(425.29,216.23) scale(1.2,1)" font-size="5.4" text-anchor="end" fill="#333" stroke="#333" stroke-width="0.25">0</text>
<rect x="432.4" y="137.2" width="19.5" height="77.5" fill="#fff" stroke="#111" stroke-width="1.0"/>
<path d="M442.1,137.2 V130.6 M437.8,130.6 H446.5" stroke="#111" stroke-width="1.1" fill="none"/>
<rect x="461.3" y="160.4" width="19.7" height="54.3" fill="#000" stroke="#111" stroke-width="1.0"/>
<path d="M471.1,160.4 V157.1 M466.8,157.1 H475.5" stroke="#111" stroke-width="1.1" fill="none"/>
<path d="M442.1,127.3 V123.6 H472.6 V127.3" fill="none" stroke="#111" stroke-width="0.9"/>
<path d="M189.5,265.6 V348.6 H249.0" fill="none" stroke="#1a1a1a" stroke-width="1.2"/>
<line x1="187.5" y1="266.1" x2="189.5" y2="266.1" stroke="#222" stroke-width="0.8"/>
<text transform="translate(187.22,268.24) scale(1.0,1)" font-size="7.1" text-anchor="end" fill="#333" stroke="#333" stroke-width="0.25">2.5</text>
<line x1="187.5" y1="282.9" x2="189.5" y2="282.9" stroke="#222" stroke-width="0.8"/>
<text transform="translate(187.22,285.04) scale(1.0,1)" font-size="7.1" text-anchor="end" fill="#333" stroke="#333" stroke-width="0.25">2.0</text>
<line x1="187.5" y1="299.7" x2="189.5" y2="299.7" stroke="#222" stroke-width="0.8"/>
<text transform="translate(187.22,301.84) scale(1.0,1)" font-size="7.1" text-anchor="end" fill="#333" stroke="#333" stroke-width="0.25">1.5</text>
<line x1="187.5" y1="316.0" x2="189.5" y2="316.0" stroke="#222" stroke-width="0.8"/>
<text transform="translate(187.22,318.14) scale(1.0,1)" font-size="7.1" text-anchor="end" fill="#333" stroke="#333" stroke-width="0.25">1.0</text>
<line x1="187.5" y1="332.2" x2="189.5" y2="332.2" stroke="#222" stroke-width="0.8"/>
<text transform="translate(187.22,334.34) scale(1.0,1)" font-size="7.1" text-anchor="end" fill="#333" stroke="#333" stroke-width="0.25">0.5</text>
<line x1="187.5" y1="348.6" x2="189.5" y2="348.6" stroke="#222" stroke-width="0.8"/>
<text transform="translate(187.22,350.74) scale(1.0,1)" font-size="7.1" text-anchor="end" fill="#333" stroke="#333" stroke-width="0.25">0.0</text>
<rect x="194.2" y="276.2" width="20.5" height="72.4" fill="#fff" stroke="#111" stroke-width="1.0"/>
<path d="M204.4,276.2 V273.8 M199.4,273.8 H209.4" stroke="#111" stroke-width="1.1" fill="none"/>
<rect x="223.8" y="322.9" width="19.9" height="25.7" fill="#000" stroke="#111" stroke-width="1.0"/>
<path d="M233.8,322.9 V320.3 M229.4,320.3 H238.1" stroke="#111" stroke-width="1.1" fill="none"/>
<path d="M202.9,262.8 V259.6 H233.6 V262.8" fill="none" stroke="#111" stroke-width="0.9"/>
<path d="M457.4,273.8 V348.1 H518.0" fill="none" stroke="#1a1a1a" stroke-width="1.2"/>
<line x1="455.4" y1="274.3" x2="457.4" y2="274.3" stroke="#222" stroke-width="0.8"/>
<text transform="translate(455.31,276.37) scale(1.0,1)" font-size="6.9" text-anchor="end" fill="#333" stroke="#333" stroke-width="0.25">0.5</text>
<line x1="455.4" y1="289.1" x2="457.4" y2="289.1" stroke="#222" stroke-width="0.8"/>
<text transform="translate(455.31,291.17) scale(1.0,1)" font-size="6.9" text-anchor="end" fill="#333" stroke="#333" stroke-width="0.25">0.4</text>
<line x1="455.4" y1="303.4" x2="457.4" y2="303.4" stroke="#222" stroke-width="0.8"/>
<text transform="translate(455.31,305.47) scale(1.0,1)" font-size="6.9" text-anchor="end" fill="#333" stroke="#333" stroke-width="0.25">0.3</text>
<line x1="455.4" y1="318.1" x2="457.4" y2="318.1" stroke="#222" stroke-width="0.8"/>
<text transform="translate(455.31,320.17) scale(1.0,1)" font-size="6.9" text-anchor="end" fill="#333" stroke="#333" stroke-width="0.25">0.2</text>
<line x1="455.4" y1="333.3" x2="457.4" y2="333.3" stroke="#222" stroke-width="0.8"/>
<text transform="translate(455.31,335.37) scale(1.0,1)" font-size="6.9" text-anchor="end" fill="#333" stroke="#333" stroke-width="0.25">0.1</text>
<line x1="455.4" y1="348.1" x2="457.4" y2="348.1" stroke="#222" stroke-width="0.8"/>
<text transform="translate(455.31,350.17) scale(1.0,1)" font-size="6.9" text-anchor="end" fill="#333" stroke="#333" stroke-width="0.25">0.0</text>
<rect x="462.5" y="290.7" width="20.8" height="57.4" fill="#fff" stroke="#111" stroke-width="1.0"/>
<path d="M472.9,290.7 V285.2 M468.1,285.2 H477.7" stroke="#111" stroke-width="1.1" fill="none"/>
<rect x="493.4" y="336.4" width="20.4" height="11.7" fill="#000" stroke="#111" stroke-width="1.0"/>
<path d="M503.6,336.4 V334.8 M500.1,334.8 H507.1" stroke="#111" stroke-width="1.1" fill="none"/>
<path d="M472.8,266.2 V262.6 H502.6 V266.2" fill="none" stroke="#111" stroke-width="0.9"/>
<path d="M25.0,265.4 V349.0 H142.2" fill="none" stroke="#1a1a1a" stroke-width="1.2"/>
<line x1="23.0" y1="266.0" x2="25.0" y2="266.0" stroke="#222" stroke-width="0.8"/>
<text transform="translate(22.53,267.99) scale(1.15,1)" font-size="6.4" text-anchor="end" fill="#333" stroke="#333" stroke-width="0.25">80</text>
<line x1="23.0" y1="287.4" x2="25.0" y2="287.4" stroke="#222" stroke-width="0.8"/>
<text transform="translate(22.53,289.39) scale(1.15,1)" font-size="6.4" text-anchor="end" fill="#333" stroke="#333" stroke-width="0.25">60</text>
<line x1="23.0" y1="308.4" x2="25.0" y2="308.4" stroke="#222" stroke-width="0.8"/>
<text transform="translate(22.53,310.39) scale(1.15,1)" font-size="6.4" text-anchor="end" fill="#333" stroke="#333" stroke-width="0.25">40</text>
<line x1="23.0" y1="328.5" x2="25.0" y2="328.5" stroke="#222" stroke-width="0.8"/>
<text transform="translate(22.53,330.49) scale(1.15,1)" font-size="6.4" text-anchor="end" fill="#333" stroke="#333" stroke-width="0.25">20</text>
<line x1="23.0" y1="349.0" x2="25.0" y2="349.0" stroke="#222" stroke-width="0.8"/>
<text transform="translate(22.53,350.99) scale(1.15,1)" font-size="6.4" text-anchor="end" fill="#333" stroke="#333" stroke-width="0.25">0</text>
<line x1="25.2" y1="349.0" x2="25.2" y2="351.0" stroke="#222" stroke-width="0.8"/>
<text transform="translate(25.20,358.29) scale(1.15,1)" font-size="6.4" text-anchor="middle" fill="#333" stroke="#333" stroke-width="0.25">0</text>
<line x1="54.2" y1="349.0" x2="54.2" y2="351.0" stroke="#222" stroke-width="0.8"/>
<text transform="translate(54.24,358.29) scale(1.15,1)" font-size="6.4" text-anchor="middle" fill="#333" stroke="#333" stroke-width="0.25">4</text>
<line x1="83.3" y1="349.0" x2="83.3" y2="351.0" stroke="#222" stroke-width="0.8"/>
<text transform="translate(83.28,358.29) scale(1.15,1)" font-size="6.4" text-anchor="middle" fill="#333" stroke="#333" stroke-width="0.25">8</text>
<line x1="112.3" y1="349.0" x2="112.3" y2="351.0" stroke="#222" stroke-width="0.8"/>
<text transform="translate(112.32,358.29) scale(1.15,1)" font-size="6.4" text-anchor="middle" fill="#333" stroke="#333" stroke-width="0.25">12</text>
<line x1="141.4" y1="349.0" x2="141.4" y2="351.0" stroke="#222" stroke-width="0.8"/>
<text transform="translate(141.36,358.29) scale(1.15,1)" font-size="6.4" text-anchor="middle" fill="#333" stroke="#333" stroke-width="0.25">16</text>
<path d="M47.0,314.9 L68.8,304.3 L112.3,284.5 L141.4,278.3" fill="none" stroke="#000" stroke-width="1.6"/>
<path d="M47.0,310.5 V319.2 M44.7,310.5 H49.3 M44.7,319.2 H49.3" stroke="#000" stroke-width="1.2" fill="none"/>
<circle cx="47.0" cy="314.9" r="2.3" fill="#000"/>
<path d="M68.8,299.1 V309.5 M66.5,299.1 H71.1 M66.5,309.5 H71.1" stroke="#000" stroke-width="1.2" fill="none"/>
<circle cx="68.8" cy="304.3" r="2.3" fill="#000"/>
<path d="M112.3,278.3 V290.7 M110.0,278.3 H114.6 M110.0,290.7 H114.6" stroke="#000" stroke-width="1.2" fill="none"/>
<circle cx="112.3" cy="284.5" r="2.3" fill="#000"/>
<path d="M141.4,272.1 V283.6 M139.1,272.1 H143.7 M139.1,283.6 H143.7" stroke="#000" stroke-width="1.2" fill="none"/>
<circle cx="141.4" cy="278.3" r="2.3" fill="#000"/>
<path d="M47.0,333.7 L68.8,312.0 L112.3,307.1 L141.4,304.0" fill="none" stroke="#000" stroke-width="1.6"/>
<path d="M44.4,335.6 L47.0,331.4 L49.6,335.6 Z" fill="#000"/>
<path d="M68.8,304.5 V319.2 M66.5,304.5 H71.1 M66.5,319.2 H71.1" stroke="#000" stroke-width="1.2" fill="none"/>
<path d="M66.2,313.9 L68.8,309.7 L71.4,313.9 Z" fill="#000"/>
<path d="M112.3,300.0 V314.0 M110.0,300.0 H114.6 M110.0,314.0 H114.6" stroke="#000" stroke-width="1.2" fill="none"/>
<path d="M109.7,309.0 L112.3,304.8 L114.9,309.0 Z" fill="#000"/>
<path d="M141.4,296.3 V310.9 M139.1,296.3 H143.7 M139.1,310.9 H143.7" stroke="#000" stroke-width="1.2" fill="none"/>
<path d="M138.8,305.9 L141.4,301.7 L144.0,305.9 Z" fill="#000"/>
<path d="M34.1,265.5 H44.1 M34.1,275.7 H44.1" stroke="#000" stroke-width="1.3"/>
<circle cx="38.9" cy="265.5" r="2.0" fill="#000"/>
<path d="M36.6,277.4 L38.9,273.6 L41.2,277.4 Z" fill="#000"/>
<path d="M290.2,268.2 V348.4 H406.5" fill="none" stroke="#1a1a1a" stroke-width="1.2"/>
<line x1="288.2" y1="268.8" x2="290.2" y2="268.8" stroke="#222" stroke-width="0.8"/>
<text transform="translate(287.73,270.79) scale(1.15,1)" font-size="6.4" text-anchor="end" fill="#333" stroke="#333" stroke-width="0.25">40</text>
<line x1="288.2" y1="288.6" x2="290.2" y2="288.6" stroke="#222" stroke-width="0.8"/>
<text transform="translate(287.73,290.59) scale(1.15,1)" font-size="6.4" text-anchor="end" fill="#333" stroke="#333" stroke-width="0.25">30</text>
<line x1="288.2" y1="308.4" x2="290.2" y2="308.4" stroke="#222" stroke-width="0.8"/>
<text transform="translate(287.73,310.39) scale(1.15,1)" font-size="6.4" text-anchor="end" fill="#333" stroke="#333" stroke-width="0.25">20</text>
<line x1="288.2" y1="328.5" x2="290.2" y2="328.5" stroke="#222" stroke-width="0.8"/>
<text transform="translate(287.73,330.49) scale(1.15,1)" font-size="6.4" text-anchor="end" fill="#333" stroke="#333" stroke-width="0.25">10</text>
<line x1="288.2" y1="348.4" x2="290.2" y2="348.4" stroke="#222" stroke-width="0.8"/>
<text transform="translate(287.73,350.39) scale(1.15,1)" font-size="6.4" text-anchor="end" fill="#333" stroke="#333" stroke-width="0.25">0</text>
<line x1="290.2" y1="348.4" x2="290.2" y2="350.4" stroke="#222" stroke-width="0.8"/>
<text transform="translate(290.20,357.69) scale(1.15,1)" font-size="6.4" text-anchor="middle" fill="#333" stroke="#333" stroke-width="0.25">0</text>
<line x1="319.0" y1="348.4" x2="319.0" y2="350.4" stroke="#222" stroke-width="0.8"/>
<text transform="translate(319.00,357.69) scale(1.15,1)" font-size="6.4" text-anchor="middle" fill="#333" stroke="#333" stroke-width="0.25">4</text>
<line x1="347.8" y1="348.4" x2="347.8" y2="350.4" stroke="#222" stroke-width="0.8"/>
<text transform="translate(347.80,357.69) scale(1.15,1)" font-size="6.4" text-anchor="middle" fill="#333" stroke="#333" stroke-width="0.25">8</text>
<line x1="376.6" y1="348.4" x2="376.6" y2="350.4" stroke="#222" stroke-width="0.8"/>
<text transform="translate(376.60,357.69) scale(1.15,1)" font-size="6.4" text-anchor="middle" fill="#333" stroke="#333" stroke-width="0.25">12</text>
<line x1="405.4" y1="348.4" x2="405.4" y2="350.4" stroke="#222" stroke-width="0.8"/>
<text transform="translate(405.40,357.69) scale(1.15,1)" font-size="6.4" text-anchor="middle" fill="#333" stroke="#333" stroke-width="0.25">16</text>
<path d="M319.0,288.9 L347.8,294.4 L376.6,296.0 L405.4,292.3" fill="none" stroke="#000" stroke-width="1.6"/>
<path d="M319.0,280.7 V297.4 M316.7,280.7 H321.3 M316.7,297.4 H321.3" stroke="#000" stroke-width="1.2" fill="none"/>
<circle cx="319.0" cy="288.9" r="2.3" fill="#000"/>
<path d="M347.8,287.6 V301.0 M345.5,287.6 H350.1 M345.5,301.0 H350.1" stroke="#000" stroke-width="1.2" fill="none"/>
<circle cx="347.8" cy="294.4" r="2.3" fill="#000"/>
<path d="M376.6,289.8 V303.1 M374.3,289.8 H378.9 M374.3,303.1 H378.9" stroke="#000" stroke-width="1.2" fill="none"/>
<circle cx="376.6" cy="296.0" r="2.3" fill="#000"/>
<path d="M405.4,285.4 V298.5 M403.1,285.4 H407.7 M403.1,298.5 H407.7" stroke="#000" stroke-width="1.2" fill="none"/>
<circle cx="405.4" cy="292.3" r="2.3" fill="#000"/>
<path d="M319.0,320.3 L347.8,330.4 L376.6,332.6 L405.4,334.2" fill="none" stroke="#000" stroke-width="1.6"/>
<path d="M319.0,315.5 V324.2 M316.7,315.5 H321.3 M316.7,324.2 H321.3" stroke="#000" stroke-width="1.2" fill="none"/>
<path d="M316.4,322.2 L319.0,318.0 L321.6,322.2 Z" fill="#000"/>
<path d="M347.8,328.0 V332.6 M345.5,328.0 H350.1 M345.5,332.6 H350.1" stroke="#000" stroke-width="1.2" fill="none"/>
<path d="M345.2,332.3 L347.8,328.1 L350.4,332.3 Z" fill="#000"/>
<path d="M376.6,330.4 V334.8 M374.3,330.4 H378.9 M374.3,334.8 H378.9" stroke="#000" stroke-width="1.2" fill="none"/>
<path d="M374.0,334.5 L376.6,330.3 L379.2,334.5 Z" fill="#000"/>
<path d="M402.8,336.1 L405.4,331.9 L408.0,336.1 Z" fill="#000"/>
<path d="M384.6,310.9 H393.9 M384.6,321.7 H393.9" stroke="#000" stroke-width="1.3"/>
<circle cx="388.9" cy="310.9" r="2.0" fill="#000"/>
<path d="M386.6,323.5 L388.9,319.6 L391.2,323.5 Z" fill="#000"/>
<text x="1.14" y="9.52" font-size="11.80" font-weight="bold" fill="#000">A</text>
<text x="383.32" y="8.55" font-size="11.80" font-weight="bold" fill="#000">B</text>
<text x="383.72" y="116.76" font-size="11.80" font-weight="bold" fill="#000">C</text>
<text x="0.71" y="252.68" font-size="11.80" font-weight="bold" fill="#000">D</text>
<text x="156.37" y="252.48" font-size="11.80" font-weight="bold" fill="#000">E</text>
<text x="261.24" y="252.39" font-size="11.80" font-weight="bold" fill="#000">F</text>
<text x="413.18" y="252.48" font-size="11.80" font-weight="bold" fill="#000">G</text>
<text x="6.42" y="62.52" font-size="11.32" font-weight="normal" fill="#000" stroke="#000" stroke-width="0.1">WT</text>
<text x="7.45" y="162.81" font-size="12.27" font-weight="normal" fill="#000" stroke="#000" stroke-width="0.1">KO</text>
<text x="57.02" y="91.57" font-size="10.41" font-weight="normal" fill="#000" stroke="#000" stroke-width="0.1">6.1</text>
<text x="53.65" y="193.83" font-size="10.93" font-weight="normal" fill="#000" stroke="#000" stroke-width="0.1">10.5</text>
<text x="204.81" y="41.51" font-size="11.10" font-weight="normal" fill="#000" stroke="#000" stroke-width="0.1">2.3</text>
<text x="204.78" y="143.79" font-size="10.88" font-weight="normal" fill="#000" stroke="#000" stroke-width="0.1">2.8</text>
<text x="288.48" y="29.46" font-size="11.06" font-weight="normal" fill="#000" stroke="#000" stroke-width="0.1">17.8</text>
<text x="288.37" y="132.48" font-size="11.66" font-weight="normal" fill="#000" stroke="#000" stroke-width="0.1">11.5</text>
<text x="75.38" y="224.32" font-size="11.61" font-weight="normal" fill="#000" stroke="#000" stroke-width="0.1">FSC-A</text>
<text x="192.40" y="224.10" font-size="11.25" font-weight="normal" fill="#000" stroke="#000" stroke-width="0.1">Sca-1</text>
<text x="305.97" y="224.26" font-size="11.72" font-weight="normal" fill="#000" stroke="#000" stroke-width="0.1">CD48</text>
<text transform="translate(40.24,130.46) rotate(-90)" font-size="12.08" font-weight="normal" fill="#000" stroke="#000" stroke-width="0.1">Lin</text>
<text transform="translate(154.04,128.53) rotate(-90)" font-size="11.55" font-weight="normal" fill="#000" stroke="#000" stroke-width="0.1">Mac-1</text>
<text transform="translate(267.79,131.31) rotate(-90)" font-size="11.54" font-weight="normal" fill="#000" stroke="#000" stroke-width="0.1">CD150</text>
<text transform="translate(405.73,79.08) rotate(-90)" font-size="11.72" font-weight="normal" fill="#000" stroke="#000" stroke-width="0.1">SLAM cells %</text>
<text x="433.94" y="95.15" font-size="10.11" font-weight="normal" fill="#000" stroke="#000" stroke-width="0.1">WT</text>
<text x="461.89" y="95.21" font-size="10.29" font-weight="normal" fill="#000" stroke="#000" stroke-width="0.1">KO</text>
<text transform="translate(405.14,209.53) rotate(-90)" font-size="11.59" font-weight="normal" fill="#000" stroke="#000" stroke-width="0.1">SLAM number</text>
<text x="439.31" y="119.03" font-size="10.36" font-weight="normal" fill="#000" stroke="#000" stroke-width="0.1">1.4-fold</text>
<text x="433.22" y="229.04" font-size="10.90" font-weight="normal" fill="#000" stroke="#000" stroke-width="0.1">WT</text>
<text x="462.39" y="228.50" font-size="11.68" font-weight="normal" fill="#000" stroke="#000" stroke-width="0.1">KO</text>
<text x="200.73" y="255.49" font-size="10.49" font-weight="normal" fill="#000" stroke="#000" stroke-width="0.1">2.8-fold</text>
<text transform="translate(172.38,347.58) rotate(-90)" font-size="11.57" font-weight="normal" fill="#000" stroke="#000" stroke-width="0.1">RU / 30 SLAMs</text>
<text x="196.12" y="362.87" font-size="10.66" font-weight="normal" fill="#000" stroke="#000" stroke-width="0.1">WT</text>
<text x="223.79" y="363.43" font-size="11.98" font-weight="normal" fill="#000" stroke="#000" stroke-width="0.1">KO</text>
<text x="470.43" y="258.47" font-size="10.42" font-weight="normal" fill="#000" stroke="#000" stroke-width="0.1">4.8-fold</text>
<text transform="translate(439.97,359.50) rotate(-90)" font-size="11.58" font-weight="normal" fill="#000" stroke="#000" stroke-width="0.1">RU /10<tspan dy="-0.38em" font-size="0.68em">6</tspan><tspan dy="0.38em"> CD45.2 cells</tspan></text>
<text x="464.26" y="362.91" font-size="10.83" font-weight="normal" fill="#000" stroke="#000" stroke-width="0.1">WT</text>
<text x="495.03" y="363.41" font-size="12.31" font-weight="normal" fill="#000" stroke="#000" stroke-width="0.1">KO</text>
<text transform="translate(9.42,345.87) rotate(-90)" font-size="11.57" font-weight="normal" fill="#000" stroke="#000" stroke-width="0.1">Donor cells %</text>
<text x="66.24" y="368.68" font-size="11.42" font-weight="normal" fill="#000" stroke="#000" stroke-width="0.1">Weeks</text>
<text transform="translate(62.76,291.31) scale(1.12,1)" font-size="10.60" font-weight="normal" fill="#000" stroke="#000" stroke-width="0.1">ns</text>
<text x="50.69" y="268.25" font-size="8.11" font-weight="normal" fill="#000" stroke="#000" stroke-width="0.1">WT</text>
<text x="49.21" y="278.80" font-size="8.66" font-weight="normal" fill="#000" stroke="#000" stroke-width="0.1">KO</text>
<text transform="translate(274.22,344.36) rotate(-90)" font-size="11.59" font-weight="normal" fill="#000" stroke="#000" stroke-width="0.1">Donor cells %</text>
<text x="331.91" y="368.89" font-size="11.44" font-weight="normal" fill="#000" stroke="#000" stroke-width="0.1">Weeks</text>
<text x="399.21" y="313.78" font-size="8.71" font-weight="normal" fill="#000" stroke="#000" stroke-width="0.1">WT</text>
<text x="399.00" y="324.36" font-size="9.22" font-weight="normal" fill="#000" stroke="#000" stroke-width="0.1">KO</text>
<text x="469.29" y="153.20" font-size="7.50" font-weight="normal" fill="#000" stroke="#000" stroke-width="0.1">*</text>
<text x="467.16" y="13.81" font-size="10.00" font-weight="normal" fill="#000" stroke="#000" stroke-width="0.1">**</text>
<text x="229.41" y="317.42" font-size="10.00" font-weight="normal" fill="#000" stroke="#000" stroke-width="0.1">**</text>
<text x="499.40" y="333.41" font-size="10.00" font-weight="normal" fill="#000" stroke="#000" stroke-width="0.1">**</text>
<text transform="translate(44.39,307.79) scale(1.1,1)" font-size="10.00" font-weight="normal" fill="#000" stroke="#000" stroke-width="0.1">*</text>
<text transform="translate(110.83,275.22) scale(1.1,1)" font-size="10.00" font-weight="normal" fill="#000" stroke="#000" stroke-width="0.1">*</text>
<text transform="translate(136.33,268.85) scale(1.18,1)" font-size="10.00" font-weight="normal" fill="#000" stroke="#000" stroke-width="0.1">**</text>
<text transform="translate(315.19,273.31) scale(1.2,1)" font-size="10.00" font-weight="normal" fill="#000" stroke="#000" stroke-width="0.1">**</text>
<text transform="translate(341.20,281.77) scale(1.18,1)" font-size="10.00" font-weight="normal" fill="#000" stroke="#000" stroke-width="0.1">***</text>
<text transform="translate(369.92,281.77) scale(1.18,1)" font-size="10.00" font-weight="normal" fill="#000" stroke="#000" stroke-width="0.1">***</text>
<text transform="translate(398.90,281.77) scale(1.18,1)" font-size="10.00" font-weight="normal" fill="#000" stroke="#000" stroke-width="0.1">***</text>
</svg></body></html>
